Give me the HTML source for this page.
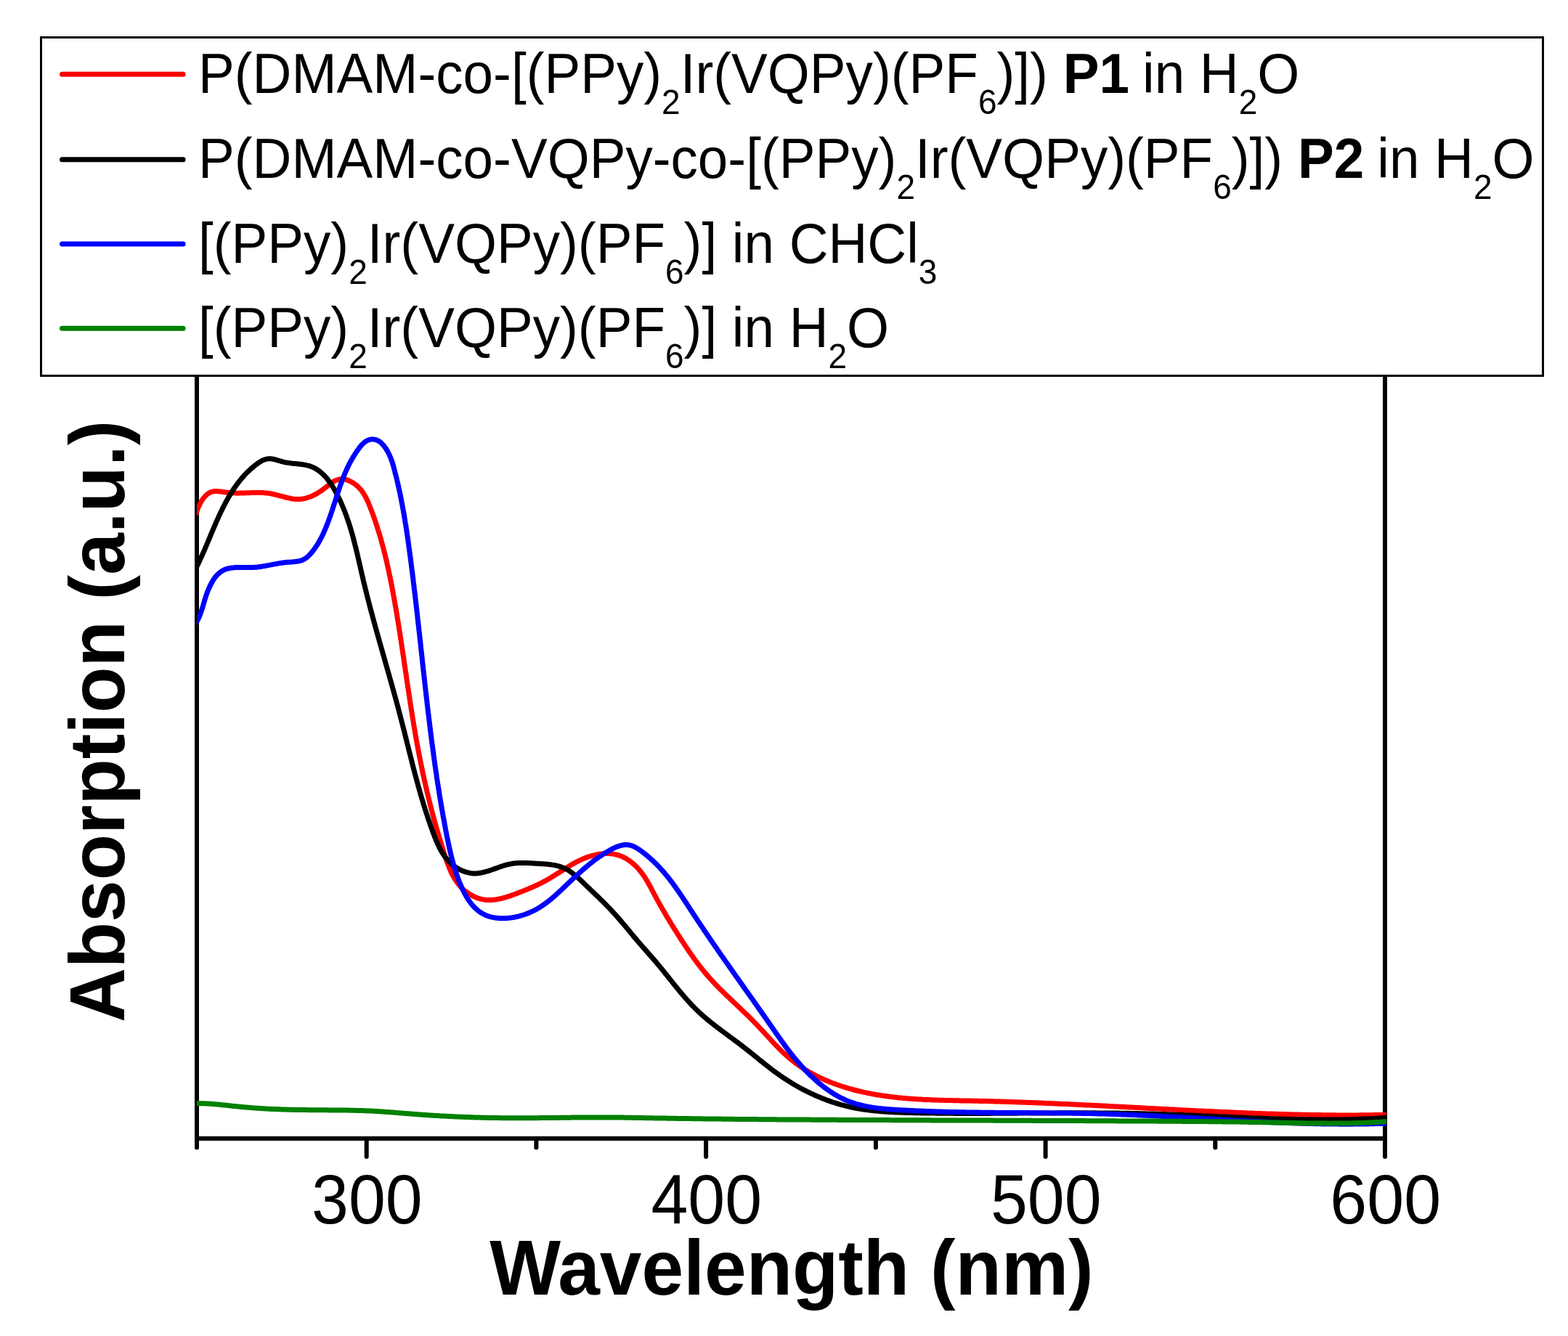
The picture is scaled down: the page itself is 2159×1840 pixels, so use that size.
<!DOCTYPE html>
<html><head><meta charset="utf-8"><title>Absorption spectra</title>
<style>html,body{margin:0;padding:0;background:#fff;overflow:hidden}svg{display:block}</style>
</head><body>
<svg width="2159" height="1840" viewBox="0 0 2159 1840">
<rect width="2159" height="1840" fill="#fff"/>
<g stroke="#000" stroke-width="6" fill="none">
<path d="M271,1568 H1907 M271,1568 V420 M1907,1568 V420"/>
</g>
<g stroke="#000" stroke-width="6" stroke-linecap="round">
<line x1="271.0" y1="1568" x2="271.0" y2="1580.5"/>
<line x1="504.7" y1="1568" x2="504.7" y2="1593.0"/>
<line x1="738.4" y1="1568" x2="738.4" y2="1580.5"/>
<line x1="972.1" y1="1568" x2="972.1" y2="1593.0"/>
<line x1="1205.9" y1="1568" x2="1205.9" y2="1580.5"/>
<line x1="1439.6" y1="1568" x2="1439.6" y2="1593.0"/>
<line x1="1673.3" y1="1568" x2="1673.3" y2="1580.5"/>
<line x1="1907.0" y1="1568" x2="1907.0" y2="1593.0"/>
</g>
<defs><clipPath id="pc"><rect x="271" y="300" width="1638" height="1300"/></clipPath></defs>
<g fill="none" stroke-width="7" stroke-linejoin="round" stroke-linecap="butt" clip-path="url(#pc)">
<path stroke="#ff0000" d="M269.6,709.6 L269.9,708.1 L270.4,706.4 L270.9,704.6 L271.6,702.8 L272.3,700.9 L273.0,698.9 L273.9,697.0 L274.8,695.0 L275.8,693.0 L276.9,691.1 L278.0,689.2 L279.2,687.4 L280.5,685.7 L281.8,684.1 L283.3,682.6 L284.7,681.2 L286.3,680.0 L287.9,679.0 L289.5,678.1 L291.2,677.5 L293.0,677.0 L294.8,676.7 L296.7,676.6 L298.5,676.6 L300.5,676.7 L302.4,676.9 L304.4,677.1 L306.4,677.4 L308.4,677.7 L310.4,678.0 L312.4,678.3 L314.4,678.5 L316.4,678.7 L318.4,678.9 L320.4,679.0 L322.4,679.1 L324.4,679.1 L326.3,679.2 L328.3,679.2 L330.3,679.1 L332.3,679.1 L334.2,679.0 L336.2,679.0 L338.2,678.9 L340.1,678.8 L342.1,678.8 L344.1,678.7 L346.0,678.6 L348.0,678.5 L349.9,678.5 L351.9,678.4 L353.9,678.4 L355.8,678.4 L357.8,678.5 L359.7,678.5 L361.7,678.6 L363.7,678.7 L365.7,678.9 L367.6,679.1 L369.6,679.3 L371.6,679.6 L373.6,680.0 L375.6,680.4 L377.5,680.8 L379.5,681.3 L381.5,681.8 L383.5,682.3 L385.5,682.9 L387.5,683.4 L389.5,683.9 L391.5,684.5 L393.5,685.0 L395.4,685.5 L397.4,685.9 L399.4,686.3 L401.3,686.7 L403.3,687.0 L405.2,687.2 L407.2,687.4 L409.1,687.5 L411.0,687.5 L412.9,687.4 L414.8,687.2 L416.6,687.0 L418.5,686.7 L420.3,686.3 L422.2,685.8 L424.0,685.2 L425.8,684.6 L427.6,684.0 L429.4,683.2 L431.2,682.4 L432.9,681.5 L434.7,680.6 L436.4,679.7 L438.1,678.6 L439.8,677.6 L441.5,676.4 L443.2,675.3 L444.9,674.1 L446.5,672.8 L448.2,671.5 L449.8,670.2 L451.4,668.9 L453.0,667.7 L454.6,666.4 L456.3,665.3 L457.9,664.1 L459.6,663.1 L461.3,662.2 L463.0,661.4 L464.7,660.8 L466.5,660.3 L468.3,659.9 L470.1,659.8 L472.0,659.8 L473.8,660.0 L475.7,660.4 L477.6,660.9 L479.5,661.6 L481.4,662.4 L483.3,663.3 L485.1,664.4 L486.9,665.5 L488.6,666.7 L490.3,668.0 L491.9,669.4 L493.5,670.8 L494.9,672.3 L496.3,673.8 L497.6,675.4 L498.8,677.0 L499.9,678.6 L501.0,680.3 L502.0,682.0 L503.0,683.7 L503.9,685.5 L504.8,687.3 L505.7,689.1 L506.5,690.9 L507.3,692.7 L508.0,694.6 L508.8,696.4 L509.5,698.3 L510.2,700.1 L511.0,702.0 L511.7,703.8 L512.4,705.7 L513.1,707.6 L513.8,709.4 L514.4,711.3 L515.1,713.2 L515.8,715.0 L516.4,716.9 L517.0,718.8 L517.7,720.7 L518.3,722.6 L518.9,724.5 L519.5,726.4 L520.1,728.3 L520.7,730.2 L521.3,732.1 L521.9,734.0 L522.5,735.9 L523.1,737.8 L523.6,739.7 L524.2,741.6 L524.7,743.5 L525.2,745.4 L525.8,747.4 L526.3,749.3 L526.8,751.2 L527.3,753.1 L527.8,755.1 L528.4,757.0 L528.8,758.9 L529.3,760.9 L529.8,762.8 L530.3,764.7 L530.8,766.7 L531.2,768.6 L531.7,770.6 L532.2,772.5 L532.6,774.5 L533.0,776.4 L533.5,778.4 L533.9,780.3 L534.4,782.3 L534.8,784.2 L535.2,786.2 L535.6,788.1 L536.0,790.1 L536.4,792.1 L536.9,794.0 L537.3,796.0 L537.6,797.9 L538.0,799.9 L538.4,801.9 L538.8,803.8 L539.2,805.8 L539.6,807.8 L540.0,809.7 L540.3,811.7 L540.7,813.7 L541.1,815.6 L541.4,817.6 L541.8,819.6 L542.1,821.5 L542.5,823.5 L542.8,825.5 L543.2,827.5 L543.5,829.4 L543.9,831.4 L544.2,833.4 L544.6,835.4 L544.9,837.3 L545.2,839.3 L545.6,841.3 L545.9,843.3 L546.2,845.2 L546.6,847.2 L546.9,849.2 L547.2,851.2 L547.5,853.1 L547.9,855.1 L548.2,857.1 L548.5,859.1 L548.8,861.0 L549.1,863.0 L549.4,865.0 L549.8,867.0 L550.1,869.0 L550.4,870.9 L550.7,872.9 L551.0,874.9 L551.3,876.9 L551.6,878.9 L551.9,880.8 L552.2,882.8 L552.5,884.8 L552.8,886.8 L553.1,888.8 L553.4,890.7 L553.7,892.7 L554.0,894.7 L554.3,896.7 L554.6,898.7 L554.9,900.6 L555.2,902.6 L555.5,904.6 L555.8,906.6 L556.1,908.5 L556.3,910.5 L556.6,912.5 L556.9,914.5 L557.2,916.5 L557.5,918.4 L557.8,920.4 L558.1,922.4 L558.4,924.4 L558.7,926.4 L559.0,928.3 L559.3,930.3 L559.6,932.3 L559.8,934.3 L560.1,936.3 L560.4,938.2 L560.7,940.2 L561.0,942.2 L561.3,944.2 L561.6,946.2 L561.9,948.1 L562.2,950.1 L562.5,952.1 L562.8,954.1 L563.1,956.0 L563.4,958.0 L563.7,960.0 L564.0,962.0 L564.3,963.9 L564.6,965.9 L564.9,967.9 L565.2,969.9 L565.5,971.8 L565.8,973.8 L566.1,975.8 L566.4,977.8 L566.7,979.7 L567.1,981.7 L567.4,983.7 L567.7,985.7 L568.0,987.6 L568.3,989.6 L568.6,991.6 L569.0,993.5 L569.3,995.5 L569.6,997.5 L569.9,999.4 L570.3,1001.4 L570.6,1003.4 L570.9,1005.3 L571.3,1007.3 L571.6,1009.3 L571.9,1011.2 L572.3,1013.2 L572.6,1015.2 L573.0,1017.1 L573.3,1019.1 L573.7,1021.1 L574.0,1023.0 L574.4,1025.0 L574.7,1027.0 L575.1,1028.9 L575.5,1030.9 L575.8,1032.8 L576.2,1034.8 L576.6,1036.8 L577.0,1038.7 L577.3,1040.7 L577.7,1042.6 L578.1,1044.6 L578.5,1046.5 L578.9,1048.5 L579.3,1050.4 L579.7,1052.4 L580.1,1054.3 L580.5,1056.3 L580.9,1058.3 L581.3,1060.2 L581.7,1062.2 L582.1,1064.1 L582.5,1066.0 L582.9,1068.0 L583.4,1069.9 L583.8,1071.9 L584.2,1073.8 L584.7,1075.8 L585.1,1077.7 L585.5,1079.7 L586.0,1081.6 L586.4,1083.6 L586.9,1085.5 L587.3,1087.4 L587.8,1089.4 L588.2,1091.3 L588.7,1093.3 L589.2,1095.2 L589.6,1097.1 L590.1,1099.1 L590.6,1101.0 L591.1,1103.0 L591.5,1104.9 L592.0,1106.8 L592.5,1108.8 L593.0,1110.7 L593.5,1112.6 L594.0,1114.6 L594.5,1116.5 L595.0,1118.4 L595.5,1120.4 L596.0,1122.3 L596.6,1124.2 L597.1,1126.2 L597.6,1128.1 L598.1,1130.0 L598.7,1132.0 L599.2,1133.9 L599.7,1135.8 L600.3,1137.7 L600.8,1139.7 L601.4,1141.6 L601.9,1143.5 L602.5,1145.4 L603.1,1147.4 L603.6,1149.3 L604.2,1151.2 L604.8,1153.1 L605.3,1155.1 L605.9,1157.0 L606.5,1158.9 L607.1,1160.8 L607.7,1162.8 L608.3,1164.7 L608.9,1166.6 L609.5,1168.5 L610.1,1170.4 L610.7,1172.4 L611.3,1174.3 L611.9,1176.2 L612.6,1178.1 L613.2,1180.0 L613.8,1181.9 L614.5,1183.9 L615.1,1185.8 L615.8,1187.7 L616.5,1189.6 L617.2,1191.4 L617.9,1193.3 L618.6,1195.2 L619.4,1197.0 L620.2,1198.8 L621.0,1200.7 L621.8,1202.4 L622.7,1204.2 L623.6,1206.0 L624.6,1207.7 L625.5,1209.4 L626.6,1211.1 L627.6,1212.7 L628.7,1214.4 L629.9,1215.9 L631.1,1217.5 L632.3,1219.0 L633.6,1220.5 L635.0,1222.0 L636.4,1223.4 L637.8,1224.8 L639.3,1226.1 L640.9,1227.4 L642.5,1228.6 L644.1,1229.8 L645.8,1230.9 L647.5,1232.0 L649.2,1233.0 L651.0,1233.9 L652.8,1234.8 L654.6,1235.6 L656.4,1236.4 L658.3,1237.1 L660.2,1237.6 L662.1,1238.2 L664.0,1238.6 L665.9,1238.9 L667.8,1239.2 L669.7,1239.4 L671.7,1239.5 L673.6,1239.5 L675.6,1239.5 L677.5,1239.4 L679.5,1239.2 L681.5,1239.0 L683.4,1238.8 L685.4,1238.4 L687.4,1238.0 L689.3,1237.6 L691.3,1237.2 L693.3,1236.6 L695.2,1236.1 L697.2,1235.5 L699.1,1234.9 L701.1,1234.3 L703.0,1233.6 L705.0,1232.9 L706.9,1232.2 L708.9,1231.5 L710.8,1230.8 L712.7,1230.1 L714.6,1229.3 L716.5,1228.6 L718.4,1227.9 L720.3,1227.1 L722.1,1226.4 L724.0,1225.6 L725.8,1224.9 L727.7,1224.1 L729.5,1223.3 L731.3,1222.6 L733.1,1221.8 L734.9,1221.0 L736.7,1220.2 L738.5,1219.3 L740.3,1218.5 L742.1,1217.6 L743.8,1216.8 L745.6,1215.9 L747.3,1215.0 L749.0,1214.1 L750.8,1213.2 L752.5,1212.2 L754.2,1211.3 L755.9,1210.3 L757.6,1209.3 L759.3,1208.3 L761.0,1207.2 L762.6,1206.2 L764.3,1205.1 L766.0,1204.1 L767.7,1203.0 L769.3,1201.9 L771.0,1200.9 L772.7,1199.8 L774.4,1198.7 L776.1,1197.6 L777.7,1196.6 L779.4,1195.5 L781.1,1194.5 L782.8,1193.4 L784.5,1192.4 L786.3,1191.3 L788.0,1190.3 L789.7,1189.4 L791.5,1188.4 L793.3,1187.4 L795.1,1186.5 L796.9,1185.6 L798.7,1184.7 L800.5,1183.9 L802.3,1183.1 L804.2,1182.3 L806.1,1181.5 L808.0,1180.8 L809.9,1180.1 L811.9,1179.5 L813.8,1178.9 L815.8,1178.3 L817.8,1177.8 L819.8,1177.3 L821.8,1176.9 L823.8,1176.5 L825.9,1176.2 L827.9,1176.0 L829.9,1175.8 L831.9,1175.6 L833.9,1175.5 L835.9,1175.5 L837.9,1175.6 L839.9,1175.7 L841.9,1175.8 L843.9,1176.1 L845.8,1176.4 L847.7,1176.8 L849.6,1177.3 L851.5,1177.8 L853.3,1178.4 L855.1,1179.1 L856.9,1179.9 L858.7,1180.7 L860.4,1181.6 L862.1,1182.6 L863.8,1183.6 L865.5,1184.7 L867.1,1185.8 L868.7,1187.0 L870.2,1188.2 L871.8,1189.5 L873.3,1190.8 L874.7,1192.2 L876.2,1193.6 L877.6,1195.0 L878.9,1196.5 L880.2,1198.0 L881.5,1199.6 L882.8,1201.2 L884.0,1202.8 L885.2,1204.4 L886.3,1206.0 L887.5,1207.7 L888.5,1209.4 L889.6,1211.1 L890.6,1212.8 L891.7,1214.5 L892.6,1216.3 L893.6,1218.0 L894.6,1219.8 L895.5,1221.6 L896.5,1223.3 L897.4,1225.1 L898.3,1226.9 L899.3,1228.6 L900.2,1230.4 L901.2,1232.2 L902.1,1233.9 L903.1,1235.7 L904.0,1237.5 L905.0,1239.2 L905.9,1241.0 L906.9,1242.7 L907.9,1244.4 L908.8,1246.2 L909.8,1247.9 L910.8,1249.6 L911.8,1251.4 L912.8,1253.1 L913.8,1254.8 L914.8,1256.5 L915.8,1258.2 L916.8,1260.0 L917.8,1261.7 L918.8,1263.4 L919.9,1265.1 L920.9,1266.8 L921.9,1268.5 L923.0,1270.2 L924.0,1271.9 L925.0,1273.6 L926.1,1275.3 L927.1,1277.0 L928.2,1278.7 L929.2,1280.4 L930.3,1282.0 L931.4,1283.7 L932.4,1285.4 L933.5,1287.1 L934.6,1288.8 L935.7,1290.5 L936.7,1292.2 L937.8,1293.8 L938.9,1295.5 L940.0,1297.2 L941.1,1298.9 L942.2,1300.6 L943.3,1302.2 L944.4,1303.9 L945.6,1305.6 L946.7,1307.2 L947.8,1308.9 L948.9,1310.6 L950.1,1312.2 L951.2,1313.9 L952.4,1315.5 L953.5,1317.1 L954.7,1318.8 L955.9,1320.4 L957.0,1322.0 L958.2,1323.6 L959.4,1325.2 L960.6,1326.8 L961.8,1328.4 L963.1,1330.0 L964.3,1331.6 L965.5,1333.2 L966.8,1334.7 L968.0,1336.3 L969.3,1337.8 L970.5,1339.4 L971.8,1340.9 L973.1,1342.4 L974.4,1343.9 L975.7,1345.4 L977.0,1346.9 L978.4,1348.4 L979.7,1349.8 L981.0,1351.3 L982.4,1352.7 L983.7,1354.2 L985.1,1355.6 L986.5,1357.0 L987.9,1358.5 L989.3,1359.9 L990.6,1361.3 L992.0,1362.7 L993.5,1364.1 L994.9,1365.5 L996.3,1366.9 L997.7,1368.3 L999.1,1369.6 L1000.5,1371.0 L1002.0,1372.4 L1003.4,1373.8 L1004.8,1375.1 L1006.3,1376.5 L1007.7,1377.9 L1009.2,1379.3 L1010.6,1380.6 L1012.1,1382.0 L1013.5,1383.4 L1015.0,1384.7 L1016.4,1386.1 L1017.9,1387.5 L1019.3,1388.8 L1020.7,1390.2 L1022.2,1391.6 L1023.6,1393.0 L1025.1,1394.4 L1026.5,1395.7 L1028.0,1397.1 L1029.4,1398.5 L1030.8,1399.9 L1032.3,1401.3 L1033.7,1402.8 L1035.1,1404.2 L1036.5,1405.6 L1037.9,1407.0 L1039.3,1408.5 L1040.7,1409.9 L1042.1,1411.4 L1043.5,1412.8 L1044.9,1414.3 L1046.3,1415.8 L1047.7,1417.3 L1049.0,1418.7 L1050.4,1420.2 L1051.8,1421.7 L1053.2,1423.2 L1054.5,1424.7 L1055.9,1426.2 L1057.3,1427.7 L1058.6,1429.2 L1060.0,1430.7 L1061.4,1432.2 L1062.7,1433.7 L1064.1,1435.1 L1065.5,1436.6 L1066.9,1438.1 L1068.3,1439.5 L1069.7,1441.0 L1071.1,1442.4 L1072.5,1443.9 L1073.9,1445.3 L1075.4,1446.7 L1076.8,1448.1 L1078.2,1449.5 L1079.7,1450.9 L1081.2,1452.2 L1082.6,1453.6 L1084.1,1454.9 L1085.6,1456.2 L1087.1,1457.5 L1088.7,1458.8 L1090.2,1460.1 L1091.8,1461.3 L1093.3,1462.5 L1094.9,1463.7 L1096.5,1464.9 L1098.1,1466.1 L1099.7,1467.2 L1101.4,1468.3 L1103.0,1469.5 L1104.7,1470.5 L1106.3,1471.6 L1108.0,1472.7 L1109.7,1473.7 L1111.4,1474.8 L1113.1,1475.8 L1114.8,1476.8 L1116.6,1477.7 L1118.3,1478.7 L1120.0,1479.6 L1121.8,1480.6 L1123.6,1481.5 L1125.3,1482.4 L1127.1,1483.2 L1128.9,1484.1 L1130.7,1485.0 L1132.5,1485.8 L1134.3,1486.6 L1136.2,1487.4 L1138.0,1488.2 L1139.8,1489.0 L1141.7,1489.7 L1143.5,1490.5 L1145.4,1491.2 L1147.2,1491.9 L1149.1,1492.6 L1151.0,1493.3 L1152.9,1494.0 L1154.8,1494.6 L1156.7,1495.3 L1158.5,1495.9 L1160.5,1496.5 L1162.4,1497.1 L1164.3,1497.7 L1166.2,1498.3 L1168.1,1498.9 L1170.0,1499.4 L1171.9,1499.9 L1173.9,1500.5 L1175.8,1501.0 L1177.7,1501.5 L1179.7,1502.0 L1181.6,1502.5 L1183.6,1502.9 L1185.5,1503.4 L1187.5,1503.8 L1189.4,1504.3 L1191.3,1504.7 L1193.3,1505.1 L1195.3,1505.5 L1197.2,1505.9 L1199.2,1506.3 L1201.1,1506.6 L1203.1,1507.0 L1205.0,1507.3 L1207.0,1507.7 L1209.0,1508.0 L1210.9,1508.3 L1212.9,1508.6 L1214.9,1508.9 L1216.8,1509.2 L1218.8,1509.5 L1220.8,1509.8 L1222.8,1510.1 L1224.7,1510.3 L1226.7,1510.6 L1228.7,1510.8 L1230.7,1511.0 L1232.7,1511.3 L1234.6,1511.5 L1236.6,1511.7 L1238.6,1511.9 L1240.6,1512.1 L1242.6,1512.3 L1244.6,1512.4 L1246.6,1512.6 L1248.6,1512.8 L1250.6,1512.9 L1252.5,1513.1 L1254.5,1513.3 L1256.5,1513.4 L1258.5,1513.5 L1260.5,1513.7 L1262.5,1513.8 L1264.5,1513.9 L1266.5,1514.0 L1268.5,1514.1 L1270.5,1514.2 L1272.5,1514.4 L1274.5,1514.4 L1276.5,1514.5 L1278.5,1514.6 L1280.5,1514.7 L1282.5,1514.8 L1284.5,1514.9 L1286.5,1514.9 L1288.6,1515.0 L1290.6,1515.1 L1292.6,1515.2 L1294.6,1515.2 L1296.6,1515.3 L1298.6,1515.3 L1300.6,1515.4 L1302.6,1515.4 L1304.6,1515.5 L1306.6,1515.5 L1308.6,1515.6 L1310.6,1515.6 L1312.6,1515.7 L1314.7,1515.7 L1316.7,1515.7 L1318.7,1515.8 L1320.7,1515.8 L1322.7,1515.9 L1324.7,1515.9 L1326.7,1515.9 L1328.7,1516.0 L1330.7,1516.0 L1332.7,1516.1 L1334.7,1516.1 L1336.7,1516.1 L1338.8,1516.2 L1340.8,1516.2 L1342.8,1516.3 L1344.8,1516.3 L1346.8,1516.3 L1348.8,1516.4 L1350.8,1516.4 L1352.8,1516.5 L1354.8,1516.5 L1356.8,1516.6 L1358.8,1516.6 L1360.8,1516.7 L1362.8,1516.7 L1364.8,1516.8 L1366.8,1516.8 L1368.8,1516.9 L1370.8,1516.9 L1372.8,1517.0 L1374.8,1517.0 L1376.8,1517.1 L1378.8,1517.2 L1380.9,1517.2 L1382.9,1517.3 L1384.9,1517.3 L1386.9,1517.4 L1388.9,1517.5 L1390.9,1517.5 L1392.9,1517.6 L1394.9,1517.7 L1396.9,1517.7 L1398.9,1517.8 L1400.9,1517.9 L1402.9,1517.9 L1404.9,1518.0 L1406.8,1518.1 L1408.8,1518.2 L1410.8,1518.2 L1412.8,1518.3 L1414.8,1518.4 L1416.8,1518.5 L1418.8,1518.5 L1420.8,1518.6 L1422.8,1518.7 L1424.8,1518.8 L1426.8,1518.8 L1428.8,1518.9 L1430.8,1519.0 L1432.8,1519.1 L1434.8,1519.2 L1436.8,1519.2 L1438.8,1519.3 L1440.8,1519.4 L1442.8,1519.5 L1444.8,1519.6 L1446.8,1519.7 L1448.8,1519.7 L1450.8,1519.8 L1452.8,1519.9 L1454.8,1520.0 L1456.8,1520.1 L1458.7,1520.2 L1460.7,1520.3 L1462.7,1520.4 L1464.7,1520.4 L1466.7,1520.5 L1468.7,1520.6 L1470.7,1520.7 L1472.7,1520.8 L1474.7,1520.9 L1476.7,1521.0 L1478.7,1521.1 L1480.7,1521.2 L1482.7,1521.3 L1484.7,1521.4 L1486.7,1521.5 L1488.7,1521.6 L1490.6,1521.7 L1492.6,1521.8 L1494.6,1521.9 L1496.6,1522.0 L1498.6,1522.0 L1500.6,1522.1 L1502.6,1522.2 L1504.6,1522.3 L1506.6,1522.4 L1508.6,1522.5 L1510.6,1522.6 L1512.6,1522.7 L1514.6,1522.8 L1516.6,1522.9 L1518.5,1523.0 L1520.5,1523.1 L1522.5,1523.2 L1524.5,1523.3 L1526.5,1523.4 L1528.5,1523.6 L1530.5,1523.7 L1532.5,1523.8 L1534.5,1523.9 L1536.5,1524.0 L1538.5,1524.1 L1540.5,1524.2 L1542.5,1524.3 L1544.5,1524.4 L1546.4,1524.5 L1548.4,1524.6 L1550.4,1524.7 L1552.4,1524.8 L1554.4,1524.9 L1556.4,1525.0 L1558.4,1525.1 L1560.4,1525.2 L1562.4,1525.3 L1564.4,1525.4 L1566.4,1525.5 L1568.4,1525.6 L1570.4,1525.7 L1572.4,1525.8 L1574.4,1525.9 L1576.3,1526.1 L1578.3,1526.2 L1580.3,1526.3 L1582.3,1526.4 L1584.3,1526.5 L1586.3,1526.6 L1588.3,1526.7 L1590.3,1526.8 L1592.3,1526.9 L1594.3,1527.0 L1596.3,1527.1 L1598.3,1527.2 L1600.3,1527.3 L1602.3,1527.4 L1604.3,1527.5 L1606.3,1527.6 L1608.3,1527.7 L1610.3,1527.8 L1612.3,1527.9 L1614.3,1528.0 L1616.3,1528.1 L1618.3,1528.2 L1620.3,1528.3 L1622.2,1528.5 L1624.2,1528.6 L1626.2,1528.7 L1628.2,1528.8 L1630.2,1528.9 L1632.2,1529.0 L1634.2,1529.1 L1636.2,1529.2 L1638.2,1529.3 L1640.2,1529.4 L1642.2,1529.5 L1644.2,1529.6 L1646.2,1529.7 L1648.2,1529.8 L1650.2,1529.9 L1652.2,1530.0 L1654.2,1530.1 L1656.2,1530.2 L1658.2,1530.3 L1660.2,1530.3 L1662.2,1530.4 L1664.2,1530.5 L1666.2,1530.6 L1668.2,1530.7 L1670.2,1530.8 L1672.2,1530.9 L1674.2,1531.0 L1676.2,1531.1 L1678.2,1531.2 L1680.2,1531.3 L1682.2,1531.4 L1684.2,1531.5 L1686.2,1531.6 L1688.2,1531.6 L1690.2,1531.7 L1692.2,1531.8 L1694.2,1531.9 L1696.2,1532.0 L1698.2,1532.1 L1700.2,1532.2 L1702.2,1532.3 L1704.2,1532.3 L1706.2,1532.4 L1708.2,1532.5 L1710.2,1532.6 L1712.2,1532.7 L1714.2,1532.7 L1716.2,1532.8 L1718.2,1532.9 L1720.2,1533.0 L1722.2,1533.1 L1724.2,1533.1 L1726.2,1533.2 L1728.2,1533.3 L1730.2,1533.4 L1732.2,1533.4 L1734.2,1533.5 L1736.2,1533.6 L1738.2,1533.7 L1740.2,1533.7 L1742.2,1533.8 L1744.2,1533.9 L1746.2,1533.9 L1748.2,1534.0 L1750.2,1534.1 L1752.2,1534.1 L1754.2,1534.2 L1756.2,1534.2 L1758.2,1534.3 L1760.2,1534.4 L1762.2,1534.4 L1764.2,1534.5 L1766.2,1534.5 L1768.2,1534.6 L1770.2,1534.7 L1772.2,1534.7 L1774.2,1534.8 L1776.2,1534.8 L1778.2,1534.9 L1780.2,1534.9 L1782.2,1535.0 L1784.2,1535.0 L1786.2,1535.1 L1788.2,1535.1 L1790.2,1535.2 L1792.2,1535.2 L1794.2,1535.2 L1796.2,1535.3 L1798.2,1535.3 L1800.2,1535.4 L1802.2,1535.4 L1804.2,1535.4 L1806.2,1535.5 L1808.2,1535.5 L1810.2,1535.5 L1812.2,1535.6 L1814.2,1535.6 L1816.2,1535.6 L1818.2,1535.6 L1820.2,1535.7 L1822.2,1535.7 L1824.2,1535.7 L1826.2,1535.7 L1828.2,1535.8 L1830.2,1535.8 L1832.2,1535.8 L1834.2,1535.8 L1836.1,1535.8 L1838.1,1535.8 L1840.1,1535.9 L1842.1,1535.9 L1844.1,1535.9 L1846.1,1535.9 L1848.1,1535.9 L1850.1,1535.9 L1852.1,1535.9 L1854.1,1535.9 L1856.1,1535.9 L1858.1,1535.9 L1860.1,1535.9 L1862.1,1535.9 L1864.1,1535.9 L1866.1,1535.9 L1868.1,1535.9 L1870.1,1535.9 L1872.1,1535.8 L1874.1,1535.8 L1876.1,1535.8 L1878.1,1535.8 L1880.1,1535.8 L1882.1,1535.8 L1884.1,1535.7 L1886.1,1535.7 L1888.0,1535.7 L1890.0,1535.7 L1892.0,1535.6 L1894.0,1535.6 L1896.0,1535.6 L1898.0,1535.5 L1900.0,1535.5 L1902.0,1535.5 L1904.0,1535.4 L1906.0,1535.4 L1908.0,1535.3 L1910.0,1535.3 L1912.0,1535.2 L1914.0,1535.2"/>
<path stroke="#000000" d="M268.9,784.3 L269.8,782.6 L270.7,780.9 L271.5,779.2 L272.4,777.4 L273.2,775.7 L274.1,773.9 L274.9,772.2 L275.7,770.4 L276.5,768.6 L277.4,766.8 L278.2,765.0 L279.0,763.2 L279.8,761.4 L280.6,759.6 L281.4,757.8 L282.2,755.9 L282.9,754.1 L283.7,752.3 L284.5,750.4 L285.3,748.6 L286.1,746.7 L286.8,744.8 L287.6,743.0 L288.4,741.1 L289.2,739.3 L290.0,737.4 L290.7,735.5 L291.5,733.7 L292.3,731.8 L293.1,729.9 L293.9,728.1 L294.7,726.2 L295.5,724.3 L296.3,722.5 L297.1,720.6 L297.9,718.7 L298.7,716.9 L299.6,715.0 L300.4,713.2 L301.2,711.3 L302.1,709.5 L302.9,707.7 L303.8,705.8 L304.7,704.0 L305.6,702.2 L306.4,700.4 L307.3,698.6 L308.3,696.8 L309.2,695.0 L310.1,693.2 L311.0,691.4 L312.0,689.7 L313.0,687.9 L314.0,686.2 L314.9,684.5 L316.0,682.7 L317.0,681.0 L318.0,679.3 L319.1,677.7 L320.1,676.0 L321.2,674.3 L322.3,672.7 L323.4,671.1 L324.6,669.4 L325.7,667.8 L326.9,666.3 L328.1,664.7 L329.3,663.1 L330.5,661.6 L331.7,660.1 L333.0,658.6 L334.3,657.1 L335.6,655.6 L336.9,654.2 L338.3,652.7 L339.6,651.3 L341.0,649.9 L342.4,648.6 L343.9,647.2 L345.3,645.9 L346.8,644.6 L348.3,643.3 L349.9,642.0 L351.4,640.8 L353.0,639.6 L354.6,638.4 L356.3,637.2 L357.9,636.2 L359.6,635.1 L361.4,634.2 L363.1,633.4 L364.9,632.8 L366.6,632.3 L368.5,631.9 L370.3,631.8 L372.2,631.8 L374.0,632.0 L375.9,632.3 L377.9,632.7 L379.8,633.2 L381.8,633.8 L383.8,634.4 L385.8,635.0 L387.8,635.5 L389.8,636.1 L391.9,636.6 L394.0,637.0 L396.1,637.3 L398.2,637.6 L400.3,637.9 L402.4,638.2 L404.5,638.4 L406.6,638.6 L408.7,638.8 L410.8,639.0 L412.8,639.2 L414.9,639.5 L416.9,639.8 L418.9,640.1 L420.9,640.4 L422.8,640.9 L424.7,641.3 L426.5,641.9 L428.3,642.5 L430.1,643.2 L431.8,644.0 L433.5,644.9 L435.2,645.8 L436.8,646.8 L438.3,647.9 L439.9,649.0 L441.3,650.2 L442.8,651.4 L444.2,652.7 L445.6,654.0 L447.0,655.4 L448.3,656.8 L449.6,658.3 L450.8,659.8 L452.0,661.4 L453.2,663.0 L454.4,664.6 L455.5,666.3 L456.7,667.9 L457.7,669.7 L458.8,671.4 L459.8,673.1 L460.9,674.9 L461.9,676.7 L462.8,678.5 L463.8,680.3 L464.7,682.1 L465.6,683.9 L466.5,685.7 L467.4,687.6 L468.3,689.4 L469.1,691.2 L469.9,693.1 L470.7,694.9 L471.5,696.8 L472.3,698.6 L473.1,700.5 L473.8,702.4 L474.6,704.2 L475.3,706.1 L476.0,708.0 L476.7,709.8 L477.4,711.7 L478.0,713.6 L478.7,715.5 L479.3,717.4 L480.0,719.3 L480.6,721.2 L481.2,723.1 L481.8,725.0 L482.4,726.9 L482.9,728.8 L483.5,730.7 L484.1,732.6 L484.6,734.5 L485.2,736.4 L485.7,738.3 L486.2,740.2 L486.7,742.2 L487.2,744.1 L487.7,746.0 L488.2,747.9 L488.7,749.9 L489.2,751.8 L489.7,753.7 L490.2,755.7 L490.6,757.6 L491.1,759.5 L491.6,761.5 L492.0,763.4 L492.5,765.3 L492.9,767.3 L493.4,769.2 L493.8,771.2 L494.3,773.1 L494.7,775.1 L495.2,777.0 L495.6,778.9 L496.0,780.9 L496.5,782.8 L496.9,784.8 L497.4,786.7 L497.8,788.7 L498.3,790.6 L498.7,792.5 L499.2,794.5 L499.6,796.4 L500.1,798.4 L500.5,800.3 L501.0,802.3 L501.5,804.2 L501.9,806.1 L502.4,808.1 L502.9,810.0 L503.4,812.0 L503.8,813.9 L504.3,815.8 L504.8,817.8 L505.3,819.7 L505.8,821.7 L506.3,823.6 L506.8,825.5 L507.3,827.5 L507.8,829.4 L508.3,831.3 L508.8,833.3 L509.3,835.2 L509.8,837.1 L510.3,839.1 L510.8,841.0 L511.3,843.0 L511.9,844.9 L512.4,846.8 L512.9,848.7 L513.4,850.7 L514.0,852.6 L514.5,854.5 L515.0,856.5 L515.5,858.4 L516.1,860.3 L516.6,862.3 L517.1,864.2 L517.7,866.1 L518.2,868.1 L518.7,870.0 L519.3,871.9 L519.8,873.9 L520.4,875.8 L520.9,877.7 L521.4,879.6 L522.0,881.6 L522.5,883.5 L523.1,885.4 L523.6,887.4 L524.2,889.3 L524.7,891.2 L525.3,893.1 L525.8,895.1 L526.4,897.0 L526.9,898.9 L527.5,900.8 L528.0,902.8 L528.6,904.7 L529.1,906.6 L529.7,908.6 L530.2,910.5 L530.7,912.4 L531.3,914.3 L531.8,916.3 L532.4,918.2 L532.9,920.1 L533.5,922.0 L534.0,924.0 L534.6,925.9 L535.1,927.8 L535.7,929.7 L536.2,931.7 L536.8,933.6 L537.3,935.5 L537.9,937.5 L538.4,939.4 L538.9,941.3 L539.5,943.2 L540.0,945.2 L540.6,947.1 L541.1,949.0 L541.6,950.9 L542.2,952.9 L542.7,954.8 L543.2,956.7 L543.8,958.7 L544.3,960.6 L544.8,962.5 L545.4,964.4 L545.9,966.4 L546.4,968.3 L546.9,970.2 L547.4,972.1 L548.0,974.1 L548.5,976.0 L549.0,977.9 L549.5,979.9 L550.0,981.8 L550.5,983.7 L551.0,985.6 L551.5,987.6 L552.0,989.5 L552.5,991.4 L553.0,993.4 L553.5,995.3 L554.0,997.2 L554.5,999.2 L555.0,1001.1 L555.5,1003.0 L556.0,1005.0 L556.5,1006.9 L557.0,1008.8 L557.4,1010.7 L557.9,1012.7 L558.4,1014.6 L558.9,1016.5 L559.4,1018.5 L559.9,1020.4 L560.3,1022.3 L560.8,1024.3 L561.3,1026.2 L561.8,1028.1 L562.3,1030.1 L562.8,1032.0 L563.2,1033.9 L563.7,1035.9 L564.2,1037.8 L564.7,1039.7 L565.2,1041.6 L565.7,1043.6 L566.2,1045.5 L566.7,1047.4 L567.1,1049.4 L567.6,1051.3 L568.1,1053.2 L568.6,1055.1 L569.1,1057.1 L569.6,1059.0 L570.1,1060.9 L570.6,1062.9 L571.1,1064.8 L571.6,1066.7 L572.2,1068.6 L572.7,1070.6 L573.2,1072.5 L573.7,1074.4 L574.2,1076.3 L574.8,1078.3 L575.3,1080.2 L575.8,1082.1 L576.3,1084.0 L576.9,1085.9 L577.4,1087.9 L578.0,1089.8 L578.5,1091.7 L579.1,1093.6 L579.6,1095.5 L580.2,1097.5 L580.7,1099.4 L581.3,1101.3 L581.9,1103.2 L582.5,1105.1 L583.0,1107.0 L583.6,1109.0 L584.2,1110.9 L584.8,1112.8 L585.4,1114.7 L586.0,1116.6 L586.6,1118.5 L587.2,1120.4 L587.9,1122.3 L588.5,1124.3 L589.1,1126.2 L589.8,1128.1 L590.4,1130.0 L591.1,1131.9 L591.7,1133.8 L592.4,1135.7 L593.0,1137.6 L593.7,1139.5 L594.4,1141.4 L595.1,1143.3 L595.8,1145.2 L596.5,1147.1 L597.2,1149.0 L597.9,1150.9 L598.6,1152.8 L599.4,1154.6 L600.1,1156.5 L600.9,1158.4 L601.7,1160.2 L602.5,1162.1 L603.4,1163.9 L604.2,1165.7 L605.1,1167.5 L606.0,1169.2 L607.0,1171.0 L608.0,1172.7 L609.0,1174.4 L610.0,1176.1 L611.1,1177.7 L612.2,1179.3 L613.4,1180.9 L614.6,1182.4 L615.9,1183.9 L617.2,1185.4 L618.5,1186.8 L619.9,1188.2 L621.4,1189.5 L622.9,1190.8 L624.4,1192.1 L626.0,1193.3 L627.7,1194.4 L629.3,1195.5 L631.1,1196.5 L632.8,1197.5 L634.6,1198.4 L636.4,1199.2 L638.3,1199.9 L640.1,1200.6 L642.0,1201.2 L643.9,1201.7 L645.8,1202.1 L647.8,1202.5 L649.7,1202.7 L651.7,1202.9 L653.6,1202.9 L655.5,1202.9 L657.5,1202.7 L659.4,1202.5 L661.4,1202.2 L663.3,1201.9 L665.3,1201.4 L667.2,1201.0 L669.2,1200.4 L671.1,1199.9 L673.1,1199.3 L675.1,1198.6 L677.0,1198.0 L679.0,1197.3 L680.9,1196.6 L682.9,1195.9 L684.8,1195.2 L686.8,1194.5 L688.7,1193.8 L690.7,1193.1 L692.6,1192.5 L694.5,1191.9 L696.5,1191.3 L698.4,1190.8 L700.4,1190.4 L702.3,1190.0 L704.2,1189.6 L706.2,1189.3 L708.1,1189.1 L710.1,1188.8 L712.0,1188.7 L713.9,1188.6 L715.9,1188.5 L717.8,1188.4 L719.8,1188.4 L721.7,1188.4 L723.7,1188.5 L725.6,1188.5 L727.6,1188.6 L729.6,1188.7 L731.6,1188.8 L733.6,1188.9 L735.6,1189.0 L737.6,1189.2 L739.6,1189.3 L741.6,1189.4 L743.7,1189.5 L745.7,1189.7 L747.8,1189.8 L749.9,1190.0 L751.9,1190.1 L754.0,1190.3 L756.0,1190.5 L758.0,1190.8 L760.1,1191.1 L762.1,1191.4 L764.1,1191.7 L766.0,1192.1 L768.0,1192.6 L769.9,1193.1 L771.8,1193.7 L773.6,1194.4 L775.4,1195.1 L777.2,1195.9 L779.0,1196.7 L780.7,1197.6 L782.4,1198.6 L784.0,1199.6 L785.7,1200.7 L787.3,1201.9 L788.8,1203.1 L790.4,1204.3 L791.9,1205.5 L793.5,1206.8 L795.0,1208.2 L796.5,1209.5 L798.0,1210.9 L799.4,1212.3 L800.9,1213.6 L802.4,1215.0 L803.8,1216.4 L805.3,1217.9 L806.7,1219.3 L808.2,1220.7 L809.6,1222.0 L811.1,1223.4 L812.5,1224.8 L814.0,1226.2 L815.4,1227.6 L816.9,1229.0 L818.3,1230.4 L819.8,1231.8 L821.2,1233.2 L822.7,1234.5 L824.1,1235.9 L825.5,1237.3 L826.9,1238.7 L828.4,1240.1 L829.8,1241.5 L831.2,1242.9 L832.6,1244.3 L834.0,1245.7 L835.4,1247.2 L836.8,1248.6 L838.2,1250.0 L839.6,1251.4 L840.9,1252.9 L842.3,1254.3 L843.7,1255.8 L845.0,1257.2 L846.3,1258.7 L847.7,1260.2 L849.0,1261.6 L850.3,1263.1 L851.6,1264.6 L852.9,1266.1 L854.2,1267.6 L855.5,1269.1 L856.8,1270.7 L858.1,1272.2 L859.4,1273.7 L860.7,1275.2 L862.0,1276.8 L863.2,1278.3 L864.5,1279.8 L865.8,1281.4 L867.1,1282.9 L868.3,1284.5 L869.6,1286.0 L870.9,1287.5 L872.1,1289.1 L873.4,1290.6 L874.7,1292.1 L876.0,1293.6 L877.3,1295.1 L878.6,1296.7 L879.9,1298.2 L881.1,1299.7 L882.5,1301.2 L883.8,1302.7 L885.1,1304.2 L886.4,1305.7 L887.7,1307.1 L889.0,1308.6 L890.3,1310.1 L891.6,1311.6 L892.9,1313.1 L894.2,1314.6 L895.6,1316.1 L896.9,1317.6 L898.2,1319.1 L899.5,1320.6 L900.8,1322.1 L902.1,1323.6 L903.4,1325.1 L904.6,1326.6 L905.9,1328.2 L907.2,1329.7 L908.5,1331.2 L909.7,1332.8 L911.0,1334.3 L912.3,1335.9 L913.5,1337.4 L914.8,1339.0 L916.0,1340.6 L917.3,1342.1 L918.5,1343.7 L919.8,1345.3 L921.0,1346.8 L922.3,1348.4 L923.5,1350.0 L924.8,1351.5 L926.1,1353.1 L927.3,1354.7 L928.6,1356.2 L929.8,1357.8 L931.1,1359.4 L932.4,1360.9 L933.6,1362.5 L934.9,1364.0 L936.2,1365.6 L937.5,1367.1 L938.8,1368.6 L940.0,1370.1 L941.4,1371.7 L942.7,1373.2 L944.0,1374.7 L945.3,1376.2 L946.6,1377.7 L948.0,1379.2 L949.3,1380.6 L950.7,1382.1 L952.0,1383.6 L953.4,1385.0 L954.8,1386.4 L956.2,1387.9 L957.6,1389.3 L959.0,1390.7 L960.4,1392.0 L961.9,1393.4 L963.3,1394.8 L964.8,1396.1 L966.3,1397.5 L967.8,1398.8 L969.3,1400.1 L970.8,1401.4 L972.3,1402.7 L973.8,1404.0 L975.3,1405.2 L976.9,1406.5 L978.4,1407.8 L980.0,1409.0 L981.6,1410.2 L983.1,1411.5 L984.7,1412.7 L986.3,1413.9 L987.9,1415.1 L989.5,1416.4 L991.1,1417.6 L992.7,1418.8 L994.3,1420.0 L995.9,1421.2 L997.5,1422.3 L999.1,1423.5 L1000.7,1424.7 L1002.3,1425.9 L1003.9,1427.1 L1005.5,1428.3 L1007.2,1429.5 L1008.8,1430.7 L1010.4,1431.9 L1012.0,1433.1 L1013.6,1434.2 L1015.2,1435.4 L1016.8,1436.6 L1018.4,1437.8 L1020.0,1439.1 L1021.6,1440.3 L1023.1,1441.5 L1024.7,1442.7 L1026.3,1443.9 L1027.9,1445.2 L1029.4,1446.4 L1031.0,1447.6 L1032.5,1448.9 L1034.1,1450.1 L1035.7,1451.4 L1037.2,1452.6 L1038.7,1453.9 L1040.3,1455.1 L1041.8,1456.4 L1043.4,1457.6 L1044.9,1458.9 L1046.5,1460.2 L1048.0,1461.4 L1049.6,1462.6 L1051.1,1463.9 L1052.7,1465.1 L1054.3,1466.4 L1055.8,1467.6 L1057.4,1468.8 L1059.0,1470.0 L1060.5,1471.3 L1062.1,1472.5 L1063.7,1473.7 L1065.3,1474.9 L1066.9,1476.1 L1068.5,1477.2 L1070.1,1478.4 L1071.8,1479.6 L1073.4,1480.7 L1075.0,1481.9 L1076.7,1483.0 L1078.3,1484.1 L1080.0,1485.2 L1081.7,1486.3 L1083.4,1487.4 L1085.1,1488.5 L1086.8,1489.6 L1088.5,1490.6 L1090.2,1491.7 L1091.9,1492.7 L1093.6,1493.7 L1095.4,1494.7 L1097.1,1495.7 L1098.9,1496.7 L1100.6,1497.7 L1102.4,1498.7 L1104.1,1499.6 L1105.9,1500.6 L1107.7,1501.5 L1109.5,1502.4 L1111.3,1503.3 L1113.1,1504.2 L1114.9,1505.1 L1116.7,1505.9 L1118.5,1506.8 L1120.4,1507.6 L1122.2,1508.5 L1124.0,1509.3 L1125.9,1510.1 L1127.7,1510.8 L1129.6,1511.6 L1131.4,1512.4 L1133.3,1513.1 L1135.2,1513.8 L1137.0,1514.6 L1138.9,1515.3 L1140.8,1515.9 L1142.7,1516.6 L1144.6,1517.3 L1146.5,1517.9 L1148.4,1518.5 L1150.3,1519.1 L1152.2,1519.7 L1154.1,1520.3 L1156.0,1520.9 L1157.9,1521.4 L1159.8,1521.9 L1161.8,1522.4 L1163.7,1522.9 L1165.6,1523.4 L1167.5,1523.9 L1169.5,1524.3 L1171.4,1524.8 L1173.4,1525.2 L1175.3,1525.6 L1177.3,1526.0 L1179.2,1526.3 L1181.2,1526.7 L1183.1,1527.0 L1185.1,1527.4 L1187.0,1527.7 L1189.0,1528.0 L1191.0,1528.3 L1192.9,1528.5 L1194.9,1528.8 L1196.9,1529.1 L1198.9,1529.3 L1200.8,1529.5 L1202.8,1529.7 L1204.8,1529.9 L1206.8,1530.1 L1208.8,1530.3 L1210.8,1530.5 L1212.7,1530.7 L1214.7,1530.8 L1216.7,1531.0 L1218.7,1531.1 L1220.7,1531.3 L1222.7,1531.4 L1224.7,1531.5 L1226.7,1531.6 L1228.7,1531.7 L1230.7,1531.8 L1232.7,1531.9 L1234.7,1532.0 L1236.7,1532.1 L1238.7,1532.1 L1240.7,1532.2 L1242.7,1532.3 L1244.7,1532.3 L1246.7,1532.4 L1248.7,1532.5 L1250.7,1532.5 L1252.7,1532.6 L1254.7,1532.6 L1256.7,1532.6 L1258.7,1532.7 L1260.7,1532.7 L1262.7,1532.8 L1264.7,1532.8 L1266.7,1532.8 L1268.7,1532.9 L1270.7,1532.9 L1272.8,1532.9 L1274.8,1533.0 L1276.8,1533.0 L1278.8,1533.0 L1280.8,1533.1 L1282.8,1533.1 L1284.8,1533.1 L1286.8,1533.1 L1288.8,1533.2 L1290.8,1533.2 L1292.8,1533.2 L1294.8,1533.2 L1296.8,1533.2 L1298.8,1533.3 L1300.8,1533.3 L1302.8,1533.3 L1304.8,1533.3 L1306.8,1533.3 L1308.8,1533.3 L1310.8,1533.3 L1312.8,1533.3 L1314.8,1533.4 L1316.8,1533.4 L1318.8,1533.4 L1320.8,1533.4 L1322.8,1533.4 L1324.8,1533.4 L1326.8,1533.4 L1328.8,1533.4 L1330.8,1533.4 L1332.8,1533.4 L1334.8,1533.4 L1336.8,1533.4 L1338.8,1533.4 L1340.8,1533.4 L1342.8,1533.4 L1344.8,1533.4 L1346.8,1533.4 L1348.8,1533.4 L1350.8,1533.4 L1352.8,1533.4 L1354.8,1533.4 L1356.8,1533.4 L1358.8,1533.4 L1360.8,1533.4 L1362.8,1533.4 L1364.8,1533.3 L1366.8,1533.3 L1368.8,1533.3 L1370.8,1533.3 L1372.8,1533.3 L1374.8,1533.3 L1376.8,1533.3 L1378.8,1533.3 L1380.8,1533.3 L1382.8,1533.3 L1384.8,1533.3 L1386.8,1533.2 L1388.7,1533.2 L1390.7,1533.2 L1392.7,1533.2 L1394.7,1533.2 L1396.7,1533.2 L1398.7,1533.2 L1400.7,1533.2 L1402.7,1533.1 L1404.7,1533.1 L1406.7,1533.1 L1408.7,1533.1 L1410.7,1533.1 L1412.7,1533.1 L1414.7,1533.1 L1416.7,1533.1 L1418.7,1533.0 L1420.7,1533.0 L1422.7,1533.0 L1424.7,1533.0 L1426.7,1533.0 L1428.7,1533.0 L1430.7,1533.0 L1432.7,1533.0 L1434.7,1533.0 L1436.7,1532.9 L1438.7,1532.9 L1440.7,1532.9 L1442.7,1532.9 L1444.7,1532.9 L1446.7,1532.9 L1448.7,1532.9 L1450.7,1532.9 L1452.6,1532.9 L1454.6,1532.9 L1456.6,1532.8 L1458.6,1532.8 L1460.6,1532.8 L1462.6,1532.8 L1464.6,1532.8 L1466.6,1532.8 L1468.6,1532.8 L1470.6,1532.8 L1472.6,1532.8 L1474.6,1532.8 L1476.6,1532.8 L1478.6,1532.8 L1480.6,1532.8 L1482.6,1532.8 L1484.6,1532.8 L1486.6,1532.8 L1488.6,1532.8 L1490.6,1532.8 L1492.6,1532.8 L1494.6,1532.8 L1496.6,1532.8 L1498.6,1532.8 L1500.6,1532.8 L1502.6,1532.8 L1504.6,1532.8 L1506.6,1532.8 L1508.5,1532.8 L1510.5,1532.9 L1512.5,1532.9 L1514.5,1532.9 L1516.5,1532.9 L1518.5,1532.9 L1520.5,1532.9 L1522.5,1532.9 L1524.5,1533.0 L1526.5,1533.0 L1528.5,1533.0 L1530.5,1533.0 L1532.5,1533.0 L1534.5,1533.1 L1536.5,1533.1 L1538.5,1533.1 L1540.5,1533.1 L1542.5,1533.2 L1544.5,1533.2 L1546.5,1533.2 L1548.5,1533.2 L1550.5,1533.3 L1552.5,1533.3 L1554.5,1533.3 L1556.5,1533.4 L1558.5,1533.4 L1560.5,1533.5 L1562.5,1533.5 L1564.5,1533.5 L1566.5,1533.6 L1568.5,1533.6 L1570.5,1533.7 L1572.5,1533.7 L1574.5,1533.8 L1576.4,1533.8 L1578.4,1533.9 L1580.4,1533.9 L1582.4,1534.0 L1584.4,1534.0 L1586.4,1534.1 L1588.4,1534.1 L1590.4,1534.2 L1592.4,1534.3 L1594.4,1534.3 L1596.4,1534.4 L1598.4,1534.5 L1600.4,1534.5 L1602.4,1534.6 L1604.4,1534.7 L1606.4,1534.7 L1608.4,1534.8 L1610.4,1534.9 L1612.4,1535.0 L1614.4,1535.0 L1616.4,1535.1 L1618.4,1535.2 L1620.4,1535.3 L1622.4,1535.3 L1624.4,1535.4 L1626.4,1535.5 L1628.4,1535.6 L1630.4,1535.7 L1632.4,1535.7 L1634.4,1535.8 L1636.4,1535.9 L1638.4,1536.0 L1640.4,1536.1 L1642.4,1536.2 L1644.4,1536.3 L1646.4,1536.3 L1648.4,1536.4 L1650.4,1536.5 L1652.4,1536.6 L1654.4,1536.7 L1656.4,1536.8 L1658.4,1536.9 L1660.4,1537.0 L1662.4,1537.0 L1664.4,1537.1 L1666.4,1537.2 L1668.4,1537.3 L1670.4,1537.4 L1672.4,1537.5 L1674.4,1537.6 L1676.4,1537.7 L1678.4,1537.8 L1680.4,1537.9 L1682.4,1537.9 L1684.4,1538.0 L1686.4,1538.1 L1688.4,1538.2 L1690.4,1538.3 L1692.4,1538.4 L1694.4,1538.5 L1696.4,1538.6 L1698.4,1538.7 L1700.4,1538.7 L1702.4,1538.8 L1704.4,1538.9 L1706.4,1539.0 L1708.4,1539.1 L1710.4,1539.2 L1712.4,1539.3 L1714.4,1539.3 L1716.4,1539.4 L1718.4,1539.5 L1720.4,1539.6 L1722.4,1539.7 L1724.4,1539.8 L1726.4,1539.8 L1728.4,1539.9 L1730.4,1540.0 L1732.4,1540.1 L1734.4,1540.1 L1736.4,1540.2 L1738.4,1540.3 L1740.4,1540.4 L1742.4,1540.4 L1744.4,1540.5 L1746.4,1540.6 L1748.4,1540.7 L1750.4,1540.7 L1752.4,1540.8 L1754.4,1540.9 L1756.4,1540.9 L1758.4,1541.0 L1760.4,1541.0 L1762.4,1541.1 L1764.4,1541.2 L1766.4,1541.2 L1768.4,1541.3 L1770.4,1541.3 L1772.4,1541.4 L1774.4,1541.4 L1776.4,1541.5 L1778.4,1541.5 L1780.4,1541.6 L1782.4,1541.6 L1784.4,1541.7 L1786.4,1541.7 L1788.4,1541.7 L1790.3,1541.8 L1792.3,1541.8 L1794.3,1541.8 L1796.3,1541.9 L1798.3,1541.9 L1800.3,1541.9 L1802.3,1541.9 L1804.3,1542.0 L1806.3,1542.0 L1808.3,1542.0 L1810.3,1542.0 L1812.3,1542.0 L1814.3,1542.1 L1816.3,1542.1 L1818.3,1542.1 L1820.3,1542.1 L1822.3,1542.1 L1824.3,1542.1 L1826.3,1542.1 L1828.3,1542.1 L1830.3,1542.1 L1832.3,1542.0 L1834.3,1542.0 L1836.3,1542.0 L1838.3,1542.0 L1840.3,1542.0 L1842.3,1542.0 L1844.2,1541.9 L1846.2,1541.9 L1848.2,1541.9 L1850.2,1541.8 L1852.2,1541.8 L1854.2,1541.8 L1856.2,1541.7 L1858.2,1541.7 L1860.2,1541.6 L1862.2,1541.6 L1864.2,1541.5 L1866.2,1541.5 L1868.2,1541.4 L1870.2,1541.3 L1872.2,1541.3 L1874.2,1541.2 L1876.2,1541.1 L1878.1,1541.0 L1880.1,1541.0 L1882.1,1540.9 L1884.1,1540.8 L1886.1,1540.7 L1888.1,1540.6 L1890.1,1540.5 L1892.1,1540.4 L1894.1,1540.3 L1896.1,1540.2 L1898.1,1540.1 L1900.1,1540.0 L1902.1,1539.8 L1904.0,1539.7 L1906.0,1539.6 L1908.0,1539.5 L1910.0,1539.3 L1912.0,1539.2 L1914.0,1539.0"/>
<path stroke="#0000ff" d="M268.7,860.0 L269.8,858.2 L270.9,856.4 L271.9,854.6 L272.8,852.7 L273.7,850.9 L274.5,849.1 L275.2,847.3 L275.9,845.5 L276.6,843.6 L277.2,841.8 L277.8,840.0 L278.4,838.1 L279.0,836.3 L279.5,834.4 L280.1,832.6 L280.6,830.7 L281.2,828.8 L281.7,826.9 L282.3,825.0 L282.9,823.1 L283.5,821.2 L284.2,819.2 L284.9,817.3 L285.6,815.3 L286.4,813.3 L287.2,811.4 L288.0,809.5 L288.9,807.5 L289.8,805.6 L290.8,803.8 L291.8,801.9 L292.8,800.2 L293.9,798.4 L295.0,796.8 L296.2,795.1 L297.5,793.6 L298.8,792.1 L300.1,790.8 L301.5,789.5 L302.9,788.3 L304.4,787.2 L306.0,786.2 L307.6,785.3 L309.3,784.5 L311.0,783.9 L312.7,783.3 L314.5,782.8 L316.4,782.5 L318.3,782.2 L320.2,781.9 L322.2,781.8 L324.1,781.6 L326.2,781.6 L328.2,781.5 L330.2,781.5 L332.3,781.5 L334.3,781.5 L336.4,781.6 L338.5,781.6 L340.5,781.6 L342.6,781.6 L344.7,781.6 L346.7,781.6 L348.7,781.5 L350.7,781.3 L352.7,781.2 L354.7,781.0 L356.7,780.7 L358.6,780.4 L360.6,780.2 L362.5,779.8 L364.5,779.5 L366.4,779.2 L368.3,778.8 L370.2,778.4 L372.2,778.1 L374.1,777.7 L376.0,777.3 L378.0,776.9 L379.9,776.6 L381.9,776.2 L383.8,775.9 L385.8,775.6 L387.8,775.3 L389.8,775.0 L391.8,774.7 L393.8,774.5 L395.9,774.3 L397.9,774.2 L400.0,774.1 L402.1,773.9 L404.1,773.8 L406.2,773.6 L408.2,773.3 L410.2,773.0 L412.1,772.7 L414.0,772.2 L415.8,771.6 L417.5,770.8 L419.2,769.9 L420.7,768.9 L422.3,767.8 L423.7,766.6 L425.1,765.3 L426.5,763.9 L427.8,762.5 L429.0,761.0 L430.3,759.5 L431.5,758.0 L432.7,756.4 L433.8,754.8 L434.9,753.1 L436.0,751.5 L437.1,749.8 L438.2,748.1 L439.2,746.3 L440.2,744.6 L441.1,742.8 L442.1,741.0 L443.0,739.2 L443.9,737.4 L444.8,735.5 L445.6,733.7 L446.5,731.8 L447.3,729.9 L448.1,728.0 L448.9,726.2 L449.6,724.3 L450.4,722.4 L451.1,720.5 L451.8,718.6 L452.5,716.7 L453.2,714.8 L453.9,712.9 L454.6,711.0 L455.2,709.1 L455.9,707.2 L456.5,705.3 L457.2,703.4 L457.8,701.5 L458.4,699.6 L459.0,697.7 L459.7,695.8 L460.3,693.9 L460.9,692.0 L461.5,690.1 L462.1,688.2 L462.7,686.3 L463.3,684.4 L463.9,682.5 L464.5,680.6 L465.1,678.8 L465.8,676.9 L466.4,675.0 L467.0,673.1 L467.7,671.3 L468.3,669.4 L469.0,667.5 L469.6,665.7 L470.3,663.8 L471.0,662.0 L471.7,660.1 L472.4,658.3 L473.1,656.4 L473.9,654.6 L474.6,652.7 L475.4,650.9 L476.2,649.1 L477.0,647.3 L477.8,645.4 L478.7,643.6 L479.6,641.8 L480.4,640.0 L481.4,638.2 L482.3,636.4 L483.3,634.6 L484.3,632.9 L485.3,631.1 L486.3,629.3 L487.4,627.6 L488.5,625.8 L489.6,624.1 L490.8,622.3 L492.0,620.6 L493.2,618.9 L494.4,617.2 L495.7,615.5 L497.1,613.9 L498.4,612.4 L499.9,611.0 L501.3,609.6 L502.8,608.5 L504.4,607.4 L506.0,606.6 L507.7,605.9 L509.4,605.4 L511.1,605.1 L512.9,605.0 L514.7,605.1 L516.5,605.4 L518.2,605.9 L519.9,606.6 L521.5,607.5 L523.1,608.6 L524.6,609.8 L526.1,611.2 L527.4,612.7 L528.8,614.2 L530.0,615.9 L531.2,617.6 L532.3,619.4 L533.4,621.2 L534.4,623.0 L535.3,624.8 L536.2,626.7 L537.0,628.6 L537.8,630.4 L538.5,632.3 L539.2,634.2 L539.9,636.1 L540.5,638.0 L541.1,640.0 L541.6,641.9 L542.2,643.8 L542.7,645.8 L543.2,647.7 L543.7,649.6 L544.2,651.6 L544.7,653.5 L545.2,655.5 L545.7,657.4 L546.2,659.4 L546.6,661.3 L547.1,663.3 L547.6,665.2 L548.0,667.2 L548.4,669.1 L548.9,671.1 L549.3,673.0 L549.7,675.0 L550.2,676.9 L550.6,678.9 L551.0,680.8 L551.4,682.8 L551.8,684.7 L552.2,686.7 L552.6,688.7 L552.9,690.6 L553.3,692.6 L553.7,694.5 L554.1,696.5 L554.4,698.5 L554.8,700.4 L555.1,702.4 L555.5,704.4 L555.8,706.3 L556.2,708.3 L556.5,710.3 L556.8,712.2 L557.2,714.2 L557.5,716.2 L557.8,718.1 L558.1,720.1 L558.5,722.1 L558.8,724.0 L559.1,726.0 L559.4,728.0 L559.7,730.0 L560.0,731.9 L560.3,733.9 L560.6,735.9 L560.9,737.9 L561.2,739.8 L561.4,741.8 L561.7,743.8 L562.0,745.8 L562.3,747.7 L562.6,749.7 L562.8,751.7 L563.1,753.7 L563.4,755.7 L563.6,757.6 L563.9,759.6 L564.2,761.6 L564.4,763.6 L564.7,765.5 L565.0,767.5 L565.2,769.5 L565.5,771.5 L565.7,773.5 L566.0,775.5 L566.3,777.4 L566.5,779.4 L566.8,781.4 L567.0,783.4 L567.3,785.4 L567.5,787.3 L567.8,789.3 L568.0,791.3 L568.3,793.3 L568.5,795.3 L568.8,797.3 L569.0,799.2 L569.2,801.2 L569.5,803.2 L569.7,805.2 L570.0,807.2 L570.2,809.2 L570.4,811.2 L570.7,813.1 L570.9,815.1 L571.1,817.1 L571.4,819.1 L571.6,821.1 L571.8,823.1 L572.1,825.1 L572.3,827.1 L572.5,829.0 L572.8,831.0 L573.0,833.0 L573.2,835.0 L573.4,837.0 L573.7,839.0 L573.9,841.0 L574.1,843.0 L574.4,844.9 L574.6,846.9 L574.8,848.9 L575.0,850.9 L575.2,852.9 L575.5,854.9 L575.7,856.9 L575.9,858.9 L576.1,860.9 L576.4,862.8 L576.6,864.8 L576.8,866.8 L577.0,868.8 L577.2,870.8 L577.5,872.8 L577.7,874.8 L577.9,876.8 L578.1,878.8 L578.3,880.8 L578.6,882.7 L578.8,884.7 L579.0,886.7 L579.2,888.7 L579.4,890.7 L579.6,892.7 L579.9,894.7 L580.1,896.7 L580.3,898.7 L580.5,900.7 L580.7,902.6 L581.0,904.6 L581.2,906.6 L581.4,908.6 L581.6,910.6 L581.8,912.6 L582.0,914.6 L582.3,916.6 L582.5,918.6 L582.7,920.6 L582.9,922.6 L583.1,924.5 L583.4,926.5 L583.6,928.5 L583.8,930.5 L584.0,932.5 L584.2,934.5 L584.5,936.5 L584.7,938.5 L584.9,940.5 L585.1,942.4 L585.4,944.4 L585.6,946.4 L585.8,948.4 L586.0,950.4 L586.3,952.4 L586.5,954.4 L586.7,956.4 L586.9,958.4 L587.2,960.3 L587.4,962.3 L587.6,964.3 L587.9,966.3 L588.1,968.3 L588.3,970.3 L588.5,972.3 L588.8,974.3 L589.0,976.2 L589.2,978.2 L589.5,980.2 L589.7,982.2 L590.0,984.2 L590.2,986.2 L590.4,988.2 L590.7,990.2 L590.9,992.1 L591.2,994.1 L591.4,996.1 L591.6,998.1 L591.9,1000.1 L592.1,1002.1 L592.4,1004.0 L592.6,1006.0 L592.9,1008.0 L593.1,1010.0 L593.4,1012.0 L593.6,1014.0 L593.9,1016.0 L594.1,1017.9 L594.4,1019.9 L594.6,1021.9 L594.9,1023.9 L595.2,1025.9 L595.4,1027.8 L595.7,1029.8 L596.0,1031.8 L596.2,1033.8 L596.5,1035.8 L596.8,1037.7 L597.0,1039.7 L597.3,1041.7 L597.6,1043.7 L597.8,1045.7 L598.1,1047.6 L598.4,1049.6 L598.7,1051.6 L598.9,1053.6 L599.2,1055.5 L599.5,1057.5 L599.8,1059.5 L600.1,1061.5 L600.4,1063.5 L600.7,1065.4 L601.0,1067.4 L601.2,1069.4 L601.5,1071.4 L601.8,1073.3 L602.1,1075.3 L602.4,1077.3 L602.7,1079.2 L603.0,1081.2 L603.4,1083.2 L603.7,1085.2 L604.0,1087.1 L604.3,1089.1 L604.6,1091.1 L604.9,1093.0 L605.2,1095.0 L605.5,1097.0 L605.9,1098.9 L606.2,1100.9 L606.5,1102.9 L606.8,1104.8 L607.2,1106.8 L607.5,1108.8 L607.8,1110.7 L608.2,1112.7 L608.5,1114.7 L608.9,1116.6 L609.2,1118.6 L609.5,1120.6 L609.9,1122.5 L610.2,1124.5 L610.6,1126.5 L611.0,1128.4 L611.3,1130.4 L611.7,1132.3 L612.0,1134.3 L612.4,1136.3 L612.8,1138.2 L613.1,1140.2 L613.5,1142.1 L613.9,1144.1 L614.3,1146.0 L614.6,1148.0 L615.0,1150.0 L615.4,1151.9 L615.8,1153.9 L616.2,1155.8 L616.6,1157.8 L617.0,1159.7 L617.4,1161.7 L617.8,1163.6 L618.2,1165.6 L618.7,1167.5 L619.1,1169.5 L619.6,1171.4 L620.0,1173.4 L620.5,1175.3 L620.9,1177.3 L621.4,1179.2 L621.9,1181.1 L622.4,1183.1 L622.9,1185.0 L623.5,1187.0 L624.0,1188.9 L624.6,1190.9 L625.1,1192.8 L625.7,1194.7 L626.3,1196.7 L626.9,1198.6 L627.5,1200.5 L628.2,1202.5 L628.8,1204.4 L629.5,1206.3 L630.2,1208.3 L630.9,1210.2 L631.6,1212.1 L632.3,1214.0 L633.1,1216.0 L633.9,1217.9 L634.7,1219.8 L635.5,1221.7 L636.3,1223.5 L637.2,1225.4 L638.1,1227.2 L639.0,1229.0 L639.9,1230.8 L640.9,1232.6 L641.9,1234.4 L642.9,1236.1 L644.0,1237.8 L645.1,1239.4 L646.2,1241.0 L647.3,1242.6 L648.5,1244.2 L649.7,1245.7 L650.9,1247.1 L652.2,1248.5 L653.5,1249.9 L654.9,1251.2 L656.3,1252.5 L657.7,1253.7 L659.1,1254.8 L660.6,1255.9 L662.2,1257.0 L663.8,1257.9 L665.4,1258.8 L667.1,1259.7 L668.8,1260.5 L670.5,1261.2 L672.3,1261.8 L674.1,1262.4 L676.0,1262.9 L677.9,1263.3 L679.8,1263.7 L681.8,1264.1 L683.8,1264.3 L685.8,1264.5 L687.8,1264.7 L689.8,1264.7 L691.9,1264.8 L694.0,1264.8 L696.0,1264.7 L698.1,1264.5 L700.2,1264.4 L702.3,1264.1 L704.4,1263.9 L706.5,1263.5 L708.6,1263.2 L710.7,1262.7 L712.7,1262.3 L714.8,1261.8 L716.8,1261.2 L718.9,1260.6 L720.9,1260.0 L722.9,1259.3 L724.8,1258.6 L726.8,1257.9 L728.7,1257.1 L730.5,1256.3 L732.4,1255.4 L734.2,1254.6 L736.0,1253.7 L737.8,1252.7 L739.5,1251.8 L741.2,1250.8 L742.9,1249.7 L744.6,1248.7 L746.2,1247.6 L747.8,1246.5 L749.4,1245.4 L751.0,1244.3 L752.6,1243.1 L754.2,1241.9 L755.7,1240.7 L757.2,1239.5 L758.7,1238.3 L760.2,1237.0 L761.7,1235.7 L763.2,1234.5 L764.7,1233.2 L766.1,1231.9 L767.6,1230.5 L769.0,1229.2 L770.5,1227.9 L771.9,1226.5 L773.3,1225.2 L774.8,1223.8 L776.2,1222.4 L777.6,1221.1 L779.0,1219.7 L780.5,1218.3 L781.9,1217.0 L783.3,1215.6 L784.8,1214.2 L786.2,1212.8 L787.7,1211.5 L789.1,1210.1 L790.6,1208.7 L792.0,1207.4 L793.5,1206.0 L795.0,1204.7 L796.5,1203.3 L797.9,1202.0 L799.4,1200.6 L800.9,1199.3 L802.4,1198.0 L804.0,1196.6 L805.5,1195.3 L807.0,1194.0 L808.6,1192.7 L810.1,1191.5 L811.7,1190.2 L813.3,1188.9 L814.8,1187.7 L816.4,1186.4 L818.0,1185.2 L819.7,1184.0 L821.3,1182.8 L822.9,1181.6 L824.6,1180.4 L826.3,1179.3 L828.0,1178.1 L829.7,1177.0 L831.4,1175.9 L833.1,1174.8 L834.8,1173.7 L836.6,1172.7 L838.4,1171.7 L840.2,1170.6 L842.0,1169.7 L843.8,1168.7 L845.6,1167.9 L847.4,1167.0 L849.2,1166.3 L851.1,1165.6 L852.9,1165.0 L854.7,1164.5 L856.6,1164.1 L858.4,1163.8 L860.2,1163.6 L862.0,1163.5 L863.8,1163.5 L865.6,1163.7 L867.4,1164.0 L869.2,1164.5 L870.9,1165.1 L872.6,1165.8 L874.3,1166.6 L876.1,1167.6 L877.7,1168.6 L879.4,1169.7 L881.1,1170.8 L882.7,1172.0 L884.3,1173.2 L885.9,1174.4 L887.5,1175.7 L889.1,1176.9 L890.7,1178.2 L892.2,1179.5 L893.7,1180.8 L895.2,1182.2 L896.7,1183.5 L898.2,1184.9 L899.7,1186.2 L901.1,1187.6 L902.6,1189.0 L904.0,1190.4 L905.4,1191.8 L906.8,1193.3 L908.1,1194.7 L909.5,1196.2 L910.8,1197.7 L912.2,1199.1 L913.5,1200.6 L914.8,1202.1 L916.0,1203.7 L917.3,1205.2 L918.6,1206.7 L919.8,1208.3 L921.0,1209.8 L922.3,1211.4 L923.5,1213.0 L924.7,1214.5 L925.9,1216.1 L927.0,1217.7 L928.2,1219.3 L929.4,1220.9 L930.5,1222.5 L931.7,1224.2 L932.8,1225.8 L934.0,1227.4 L935.1,1229.1 L936.2,1230.7 L937.3,1232.4 L938.5,1234.0 L939.6,1235.7 L940.7,1237.3 L941.8,1239.0 L942.9,1240.7 L944.0,1242.3 L945.1,1244.0 L946.2,1245.7 L947.3,1247.3 L948.3,1249.0 L949.4,1250.7 L950.5,1252.4 L951.6,1254.0 L952.7,1255.7 L953.8,1257.4 L954.9,1259.1 L956.0,1260.7 L957.1,1262.4 L958.2,1264.1 L959.3,1265.7 L960.4,1267.4 L961.5,1269.1 L962.6,1270.7 L963.7,1272.4 L964.8,1274.1 L966.0,1275.7 L967.1,1277.4 L968.2,1279.1 L969.3,1280.7 L970.4,1282.4 L971.6,1284.1 L972.7,1285.7 L973.8,1287.4 L974.9,1289.0 L976.1,1290.7 L977.2,1292.3 L978.3,1294.0 L979.5,1295.7 L980.6,1297.3 L981.7,1299.0 L982.9,1300.6 L984.0,1302.3 L985.1,1303.9 L986.3,1305.6 L987.4,1307.2 L988.6,1308.9 L989.7,1310.5 L990.8,1312.2 L992.0,1313.8 L993.1,1315.5 L994.3,1317.1 L995.4,1318.7 L996.6,1320.4 L997.7,1322.0 L998.9,1323.7 L1000.0,1325.3 L1001.2,1327.0 L1002.3,1328.6 L1003.5,1330.2 L1004.6,1331.9 L1005.8,1333.5 L1006.9,1335.2 L1008.1,1336.8 L1009.2,1338.4 L1010.4,1340.1 L1011.5,1341.7 L1012.7,1343.4 L1013.8,1345.0 L1015.0,1346.6 L1016.2,1348.3 L1017.3,1349.9 L1018.5,1351.5 L1019.6,1353.2 L1020.8,1354.8 L1021.9,1356.4 L1023.1,1358.1 L1024.2,1359.7 L1025.4,1361.3 L1026.5,1363.0 L1027.7,1364.6 L1028.9,1366.2 L1030.0,1367.9 L1031.2,1369.5 L1032.3,1371.1 L1033.5,1372.8 L1034.6,1374.4 L1035.8,1376.0 L1036.9,1377.6 L1038.1,1379.3 L1039.2,1380.9 L1040.4,1382.5 L1041.5,1384.2 L1042.7,1385.8 L1043.8,1387.4 L1044.9,1389.0 L1046.1,1390.7 L1047.2,1392.3 L1048.4,1393.9 L1049.5,1395.6 L1050.7,1397.2 L1051.8,1398.8 L1052.9,1400.4 L1054.1,1402.1 L1055.2,1403.7 L1056.3,1405.3 L1057.5,1406.9 L1058.6,1408.6 L1059.7,1410.2 L1060.9,1411.8 L1062.0,1413.4 L1063.1,1415.1 L1064.2,1416.7 L1065.4,1418.3 L1066.5,1419.9 L1067.6,1421.6 L1068.8,1423.2 L1069.9,1424.8 L1071.0,1426.4 L1072.2,1428.0 L1073.3,1429.7 L1074.5,1431.3 L1075.6,1432.9 L1076.8,1434.5 L1077.9,1436.1 L1079.1,1437.7 L1080.3,1439.3 L1081.4,1440.9 L1082.6,1442.5 L1083.8,1444.1 L1085.0,1445.7 L1086.2,1447.2 L1087.4,1448.8 L1088.6,1450.4 L1089.9,1452.0 L1091.1,1453.5 L1092.4,1455.1 L1093.6,1456.6 L1094.9,1458.2 L1096.2,1459.7 L1097.5,1461.3 L1098.8,1462.8 L1100.1,1464.3 L1101.4,1465.8 L1102.7,1467.3 L1104.1,1468.8 L1105.5,1470.3 L1106.8,1471.8 L1108.2,1473.3 L1109.6,1474.8 L1111.1,1476.3 L1112.5,1477.7 L1113.9,1479.2 L1115.4,1480.6 L1116.9,1482.0 L1118.4,1483.4 L1119.9,1484.8 L1121.4,1486.2 L1122.9,1487.6 L1124.4,1488.9 L1126.0,1490.2 L1127.5,1491.6 L1129.1,1492.9 L1130.7,1494.1 L1132.3,1495.4 L1133.9,1496.7 L1135.5,1497.9 L1137.1,1499.1 L1138.7,1500.3 L1140.4,1501.4 L1142.1,1502.6 L1143.7,1503.7 L1145.4,1504.8 L1147.1,1505.9 L1148.8,1506.9 L1150.5,1507.9 L1152.3,1508.9 L1154.0,1509.9 L1155.8,1510.9 L1157.5,1511.8 L1159.3,1512.7 L1161.1,1513.5 L1162.9,1514.4 L1164.7,1515.2 L1166.5,1515.9 L1168.3,1516.7 L1170.1,1517.4 L1172.0,1518.0 L1173.8,1518.7 L1175.7,1519.3 L1177.6,1519.9 L1179.5,1520.5 L1181.3,1521.0 L1183.2,1521.5 L1185.1,1522.0 L1187.1,1522.5 L1189.0,1522.9 L1190.9,1523.3 L1192.8,1523.7 L1194.8,1524.1 L1196.7,1524.4 L1198.7,1524.8 L1200.6,1525.1 L1202.6,1525.4 L1204.6,1525.7 L1206.5,1525.9 L1208.5,1526.2 L1210.5,1526.4 L1212.5,1526.6 L1214.4,1526.9 L1216.4,1527.1 L1218.4,1527.2 L1220.4,1527.4 L1222.4,1527.6 L1224.4,1527.7 L1226.4,1527.9 L1228.4,1528.0 L1230.4,1528.2 L1232.4,1528.3 L1234.4,1528.4 L1236.4,1528.5 L1238.5,1528.7 L1240.5,1528.8 L1242.5,1528.9 L1244.5,1529.0 L1246.5,1529.1 L1248.5,1529.2 L1250.5,1529.3 L1252.5,1529.4 L1254.5,1529.5 L1256.5,1529.6 L1258.5,1529.7 L1260.5,1529.8 L1262.5,1529.9 L1264.5,1530.0 L1266.5,1530.1 L1268.5,1530.1 L1270.5,1530.2 L1272.5,1530.3 L1274.6,1530.4 L1276.6,1530.5 L1278.6,1530.5 L1280.6,1530.6 L1282.6,1530.7 L1284.6,1530.7 L1286.6,1530.8 L1288.6,1530.9 L1290.6,1530.9 L1292.6,1531.0 L1294.6,1531.1 L1296.6,1531.1 L1298.6,1531.2 L1300.6,1531.2 L1302.6,1531.3 L1304.6,1531.3 L1306.6,1531.4 L1308.6,1531.4 L1310.6,1531.5 L1312.6,1531.5 L1314.6,1531.6 L1316.6,1531.6 L1318.6,1531.6 L1320.6,1531.7 L1322.6,1531.7 L1324.6,1531.8 L1326.6,1531.8 L1328.6,1531.8 L1330.6,1531.9 L1332.6,1531.9 L1334.6,1531.9 L1336.6,1532.0 L1338.6,1532.0 L1340.6,1532.0 L1342.6,1532.1 L1344.6,1532.1 L1346.6,1532.1 L1348.6,1532.1 L1350.6,1532.2 L1352.6,1532.2 L1354.6,1532.2 L1356.6,1532.2 L1358.6,1532.2 L1360.6,1532.3 L1362.6,1532.3 L1364.6,1532.3 L1366.6,1532.3 L1368.6,1532.3 L1370.6,1532.4 L1372.6,1532.4 L1374.6,1532.4 L1376.6,1532.4 L1378.6,1532.4 L1380.6,1532.4 L1382.6,1532.4 L1384.6,1532.5 L1386.6,1532.5 L1388.6,1532.5 L1390.6,1532.5 L1392.6,1532.5 L1394.6,1532.5 L1396.6,1532.5 L1398.6,1532.5 L1400.6,1532.6 L1402.6,1532.6 L1404.6,1532.6 L1406.6,1532.6 L1408.6,1532.6 L1410.6,1532.6 L1412.6,1532.6 L1414.5,1532.6 L1416.5,1532.6 L1418.5,1532.7 L1420.5,1532.7 L1422.5,1532.7 L1424.5,1532.7 L1426.5,1532.7 L1428.5,1532.7 L1430.5,1532.7 L1432.5,1532.7 L1434.5,1532.8 L1436.5,1532.8 L1438.5,1532.8 L1440.5,1532.8 L1442.5,1532.8 L1444.5,1532.8 L1446.5,1532.9 L1448.5,1532.9 L1450.5,1532.9 L1452.5,1532.9 L1454.5,1532.9 L1456.5,1532.9 L1458.5,1533.0 L1460.5,1533.0 L1462.5,1533.0 L1464.5,1533.0 L1466.5,1533.0 L1468.5,1533.1 L1470.5,1533.1 L1472.5,1533.1 L1474.5,1533.1 L1476.5,1533.2 L1478.4,1533.2 L1480.4,1533.2 L1482.4,1533.3 L1484.4,1533.3 L1486.4,1533.3 L1488.4,1533.4 L1490.4,1533.4 L1492.4,1533.4 L1494.4,1533.5 L1496.4,1533.5 L1498.4,1533.6 L1500.4,1533.6 L1502.4,1533.6 L1504.4,1533.7 L1506.4,1533.7 L1508.4,1533.8 L1510.4,1533.8 L1512.4,1533.9 L1514.4,1533.9 L1516.4,1534.0 L1518.4,1534.0 L1520.4,1534.1 L1522.4,1534.1 L1524.4,1534.2 L1526.4,1534.3 L1528.4,1534.3 L1530.4,1534.4 L1532.4,1534.5 L1534.4,1534.5 L1536.4,1534.6 L1538.4,1534.7 L1540.3,1534.7 L1542.3,1534.8 L1544.3,1534.9 L1546.3,1535.0 L1548.3,1535.0 L1550.3,1535.1 L1552.3,1535.2 L1554.3,1535.3 L1556.3,1535.4 L1558.3,1535.4 L1560.3,1535.5 L1562.3,1535.6 L1564.3,1535.7 L1566.3,1535.8 L1568.3,1535.9 L1570.3,1536.0 L1572.3,1536.1 L1574.3,1536.2 L1576.3,1536.2 L1578.3,1536.3 L1580.3,1536.4 L1582.3,1536.5 L1584.3,1536.6 L1586.3,1536.7 L1588.3,1536.8 L1590.3,1536.9 L1592.3,1537.0 L1594.3,1537.1 L1596.3,1537.2 L1598.3,1537.3 L1600.3,1537.4 L1602.3,1537.6 L1604.3,1537.7 L1606.3,1537.8 L1608.3,1537.9 L1610.3,1538.0 L1612.3,1538.1 L1614.3,1538.2 L1616.3,1538.3 L1618.3,1538.4 L1620.3,1538.5 L1622.3,1538.6 L1624.3,1538.7 L1626.3,1538.9 L1628.3,1539.0 L1630.2,1539.1 L1632.2,1539.2 L1634.2,1539.3 L1636.2,1539.4 L1638.2,1539.5 L1640.2,1539.6 L1642.2,1539.8 L1644.2,1539.9 L1646.2,1540.0 L1648.2,1540.1 L1650.2,1540.2 L1652.2,1540.3 L1654.2,1540.5 L1656.2,1540.6 L1658.2,1540.7 L1660.2,1540.8 L1662.2,1540.9 L1664.2,1541.0 L1666.2,1541.1 L1668.2,1541.3 L1670.2,1541.4 L1672.2,1541.5 L1674.2,1541.6 L1676.2,1541.7 L1678.2,1541.8 L1680.2,1541.9 L1682.2,1542.1 L1684.2,1542.2 L1686.2,1542.3 L1688.2,1542.4 L1690.2,1542.5 L1692.2,1542.6 L1694.2,1542.7 L1696.2,1542.8 L1698.2,1543.0 L1700.2,1543.1 L1702.2,1543.2 L1704.2,1543.3 L1706.2,1543.4 L1708.2,1543.5 L1710.2,1543.6 L1712.2,1543.7 L1714.2,1543.8 L1716.2,1543.9 L1718.2,1544.0 L1720.2,1544.1 L1722.2,1544.2 L1724.2,1544.3 L1726.2,1544.4 L1728.2,1544.5 L1730.2,1544.6 L1732.2,1544.7 L1734.2,1544.8 L1736.2,1544.9 L1738.2,1545.0 L1740.2,1545.1 L1742.2,1545.2 L1744.2,1545.3 L1746.2,1545.4 L1748.2,1545.5 L1750.2,1545.6 L1752.2,1545.7 L1754.2,1545.8 L1756.2,1545.9 L1758.2,1545.9 L1760.2,1546.0 L1762.1,1546.1 L1764.1,1546.2 L1766.1,1546.3 L1768.1,1546.3 L1770.1,1546.4 L1772.1,1546.5 L1774.1,1546.6 L1776.1,1546.7 L1778.1,1546.7 L1780.1,1546.8 L1782.1,1546.9 L1784.1,1546.9 L1786.1,1547.0 L1788.1,1547.1 L1790.1,1547.1 L1792.1,1547.2 L1794.1,1547.2 L1796.1,1547.3 L1798.1,1547.4 L1800.1,1547.4 L1802.1,1547.5 L1804.1,1547.5 L1806.1,1547.6 L1808.1,1547.6 L1810.1,1547.7 L1812.1,1547.7 L1814.1,1547.8 L1816.1,1547.8 L1818.1,1547.8 L1820.1,1547.9 L1822.1,1547.9 L1824.1,1547.9 L1826.1,1548.0 L1828.1,1548.0 L1830.1,1548.0 L1832.1,1548.0 L1834.1,1548.1 L1836.1,1548.1 L1838.1,1548.1 L1840.1,1548.1 L1842.1,1548.1 L1844.1,1548.2 L1846.1,1548.2 L1848.1,1548.2 L1850.1,1548.2 L1852.1,1548.2 L1854.1,1548.2 L1856.1,1548.2 L1858.1,1548.2 L1860.1,1548.2 L1862.1,1548.2 L1864.1,1548.1 L1866.0,1548.1 L1868.0,1548.1 L1870.0,1548.1 L1872.0,1548.1 L1874.0,1548.0 L1876.0,1548.0 L1878.0,1548.0 L1880.0,1548.0 L1882.0,1547.9 L1884.0,1547.9 L1886.0,1547.8 L1888.0,1547.8 L1890.0,1547.7 L1892.0,1547.7 L1894.0,1547.6 L1896.0,1547.6 L1898.0,1547.5 L1900.0,1547.5 L1902.0,1547.4 L1904.0,1547.3 L1906.0,1547.3 L1908.0,1547.2 L1910.0,1547.1 L1912.0,1547.0 L1914.0,1547.0"/>
<path stroke="#008000" d="M266.1,1519.9 L268.1,1519.8 L270.1,1519.7 L272.1,1519.7 L274.1,1519.7 L276.1,1519.7 L278.1,1519.7 L280.1,1519.8 L282.1,1519.8 L284.1,1519.9 L286.1,1520.0 L288.1,1520.1 L290.1,1520.3 L292.0,1520.4 L294.0,1520.5 L296.0,1520.7 L298.0,1520.9 L300.0,1521.1 L302.0,1521.3 L304.0,1521.4 L306.0,1521.7 L307.9,1521.9 L309.9,1522.1 L311.9,1522.3 L313.9,1522.5 L315.9,1522.7 L317.9,1522.9 L319.9,1523.2 L321.8,1523.4 L323.8,1523.6 L325.8,1523.8 L327.8,1524.0 L329.8,1524.2 L331.8,1524.4 L333.8,1524.6 L335.7,1524.8 L337.7,1525.0 L339.7,1525.1 L341.7,1525.3 L343.7,1525.5 L345.7,1525.6 L347.7,1525.8 L349.7,1525.9 L351.7,1526.1 L353.6,1526.2 L355.6,1526.3 L357.6,1526.5 L359.6,1526.6 L361.6,1526.7 L363.6,1526.8 L365.6,1526.9 L367.6,1527.1 L369.6,1527.2 L371.6,1527.3 L373.6,1527.4 L375.6,1527.4 L377.6,1527.5 L379.5,1527.6 L381.5,1527.7 L383.5,1527.8 L385.5,1527.8 L387.5,1527.9 L389.5,1528.0 L391.5,1528.0 L393.5,1528.1 L395.5,1528.2 L397.5,1528.2 L399.5,1528.3 L401.5,1528.3 L403.5,1528.3 L405.5,1528.4 L407.5,1528.4 L409.5,1528.5 L411.5,1528.5 L413.5,1528.5 L415.5,1528.6 L417.5,1528.6 L419.5,1528.6 L421.5,1528.6 L423.5,1528.7 L425.5,1528.7 L427.5,1528.7 L429.5,1528.7 L431.5,1528.7 L433.5,1528.8 L435.5,1528.8 L437.5,1528.8 L439.5,1528.8 L441.5,1528.8 L443.5,1528.8 L445.5,1528.8 L447.5,1528.8 L449.5,1528.8 L451.5,1528.9 L453.5,1528.9 L455.5,1528.9 L457.4,1528.9 L459.4,1528.9 L461.4,1528.9 L463.4,1528.9 L465.4,1529.0 L467.4,1529.0 L469.4,1529.0 L471.4,1529.0 L473.4,1529.0 L475.4,1529.1 L477.4,1529.1 L479.4,1529.1 L481.4,1529.2 L483.4,1529.2 L485.4,1529.2 L487.4,1529.3 L489.4,1529.3 L491.4,1529.4 L493.4,1529.4 L495.4,1529.5 L497.4,1529.6 L499.4,1529.6 L501.4,1529.7 L503.4,1529.8 L505.4,1529.9 L507.4,1529.9 L509.4,1530.0 L511.4,1530.1 L513.4,1530.2 L515.4,1530.3 L517.4,1530.5 L519.4,1530.6 L521.4,1530.7 L523.4,1530.8 L525.4,1530.9 L527.3,1531.1 L529.3,1531.2 L531.3,1531.4 L533.3,1531.5 L535.3,1531.6 L537.3,1531.8 L539.3,1531.9 L541.3,1532.1 L543.3,1532.3 L545.3,1532.4 L547.3,1532.6 L549.3,1532.7 L551.3,1532.9 L553.2,1533.0 L555.2,1533.2 L557.2,1533.4 L559.2,1533.5 L561.2,1533.7 L563.2,1533.8 L565.2,1534.0 L567.2,1534.2 L569.2,1534.3 L571.2,1534.5 L573.2,1534.6 L575.2,1534.8 L577.2,1534.9 L579.2,1535.1 L581.1,1535.2 L583.1,1535.4 L585.1,1535.5 L587.1,1535.6 L589.1,1535.8 L591.1,1535.9 L593.1,1536.0 L595.1,1536.2 L597.1,1536.3 L599.1,1536.4 L601.1,1536.5 L603.1,1536.6 L605.1,1536.8 L607.1,1536.9 L609.1,1537.0 L611.1,1537.1 L613.1,1537.2 L615.1,1537.3 L617.1,1537.4 L619.1,1537.5 L621.1,1537.6 L623.1,1537.7 L625.0,1537.8 L627.0,1537.9 L629.0,1538.0 L631.0,1538.1 L633.0,1538.2 L635.0,1538.2 L637.0,1538.3 L639.0,1538.4 L641.0,1538.5 L643.0,1538.6 L645.0,1538.6 L647.0,1538.7 L649.0,1538.8 L651.0,1538.8 L653.0,1538.9 L655.0,1539.0 L657.0,1539.0 L659.0,1539.1 L661.0,1539.1 L663.0,1539.2 L665.0,1539.2 L667.0,1539.3 L669.0,1539.3 L671.0,1539.4 L673.0,1539.4 L675.0,1539.4 L677.0,1539.5 L679.0,1539.5 L681.0,1539.5 L683.0,1539.6 L685.0,1539.6 L687.0,1539.6 L689.0,1539.7 L691.0,1539.7 L693.0,1539.7 L695.0,1539.7 L697.0,1539.7 L699.0,1539.8 L701.0,1539.8 L703.0,1539.8 L705.0,1539.8 L707.0,1539.8 L709.0,1539.8 L711.0,1539.8 L713.0,1539.8 L715.0,1539.8 L717.0,1539.8 L719.0,1539.8 L721.0,1539.8 L723.0,1539.8 L725.0,1539.8 L727.0,1539.8 L729.0,1539.8 L731.0,1539.7 L733.0,1539.7 L735.0,1539.7 L737.0,1539.7 L739.0,1539.7 L741.0,1539.7 L743.0,1539.6 L744.9,1539.6 L746.9,1539.6 L748.9,1539.6 L750.9,1539.6 L752.9,1539.5 L754.9,1539.5 L756.9,1539.5 L758.9,1539.5 L760.9,1539.5 L762.9,1539.4 L764.9,1539.4 L766.9,1539.4 L768.9,1539.4 L770.9,1539.3 L772.9,1539.3 L774.9,1539.3 L776.9,1539.3 L778.9,1539.2 L780.9,1539.2 L782.9,1539.2 L784.9,1539.2 L786.9,1539.1 L788.9,1539.1 L790.9,1539.1 L792.9,1539.1 L794.9,1539.1 L796.9,1539.0 L798.9,1539.0 L800.9,1539.0 L802.9,1539.0 L804.9,1539.0 L806.9,1539.0 L808.9,1538.9 L810.9,1538.9 L812.9,1538.9 L814.9,1538.9 L816.9,1538.9 L818.9,1538.9 L820.9,1538.9 L822.9,1538.9 L824.9,1538.9 L826.9,1538.9 L828.9,1538.9 L830.9,1538.9 L832.9,1538.9 L834.9,1538.9 L836.9,1538.9 L838.9,1538.9 L840.9,1538.9 L842.9,1538.9 L844.9,1539.0 L846.9,1539.0 L848.9,1539.0 L850.9,1539.0 L852.8,1539.0 L854.8,1539.1 L856.8,1539.1 L858.8,1539.1 L860.8,1539.2 L862.8,1539.2 L864.8,1539.2 L866.8,1539.3 L868.8,1539.3 L870.8,1539.3 L872.8,1539.4 L874.8,1539.4 L876.8,1539.4 L878.8,1539.5 L880.8,1539.5 L882.8,1539.6 L884.8,1539.6 L886.8,1539.6 L888.8,1539.7 L890.8,1539.7 L892.8,1539.7 L894.8,1539.8 L896.8,1539.8 L898.8,1539.8 L900.8,1539.9 L902.8,1539.9 L904.8,1539.9 L906.8,1540.0 L908.8,1540.0 L910.8,1540.0 L912.8,1540.1 L914.8,1540.1 L916.8,1540.1 L918.8,1540.2 L920.8,1540.2 L922.8,1540.2 L924.8,1540.3 L926.8,1540.3 L928.8,1540.3 L930.8,1540.3 L932.8,1540.4 L934.8,1540.4 L936.8,1540.4 L938.8,1540.5 L940.8,1540.5 L942.7,1540.5 L944.7,1540.6 L946.7,1540.6 L948.7,1540.6 L950.7,1540.6 L952.7,1540.7 L954.7,1540.7 L956.7,1540.7 L958.7,1540.7 L960.7,1540.8 L962.7,1540.8 L964.7,1540.8 L966.7,1540.8 L968.7,1540.9 L970.7,1540.9 L972.7,1540.9 L974.7,1540.9 L976.7,1541.0 L978.7,1541.0 L980.7,1541.0 L982.7,1541.0 L984.7,1541.1 L986.7,1541.1 L988.7,1541.1 L990.7,1541.1 L992.7,1541.1 L994.7,1541.2 L996.7,1541.2 L998.7,1541.2 L1000.7,1541.2 L1002.7,1541.3 L1004.7,1541.3 L1006.7,1541.3 L1008.7,1541.3 L1010.7,1541.3 L1012.7,1541.4 L1014.7,1541.4 L1016.7,1541.4 L1018.7,1541.4 L1020.7,1541.4 L1022.7,1541.5 L1024.7,1541.5 L1026.7,1541.5 L1028.7,1541.5 L1030.7,1541.5 L1032.7,1541.5 L1034.7,1541.6 L1036.7,1541.6 L1038.7,1541.6 L1040.7,1541.6 L1042.7,1541.6 L1044.7,1541.7 L1046.7,1541.7 L1048.7,1541.7 L1050.7,1541.7 L1052.7,1541.7 L1054.7,1541.7 L1056.7,1541.8 L1058.7,1541.8 L1060.7,1541.8 L1062.7,1541.8 L1064.7,1541.8 L1066.6,1541.8 L1068.6,1541.8 L1070.6,1541.9 L1072.6,1541.9 L1074.6,1541.9 L1076.6,1541.9 L1078.6,1541.9 L1080.6,1541.9 L1082.6,1541.9 L1084.6,1542.0 L1086.6,1542.0 L1088.6,1542.0 L1090.6,1542.0 L1092.6,1542.0 L1094.6,1542.0 L1096.6,1542.0 L1098.6,1542.1 L1100.6,1542.1 L1102.6,1542.1 L1104.6,1542.1 L1106.6,1542.1 L1108.6,1542.1 L1110.6,1542.1 L1112.6,1542.1 L1114.6,1542.1 L1116.6,1542.2 L1118.6,1542.2 L1120.6,1542.2 L1122.6,1542.2 L1124.6,1542.2 L1126.6,1542.2 L1128.6,1542.2 L1130.6,1542.2 L1132.6,1542.2 L1134.6,1542.3 L1136.6,1542.3 L1138.6,1542.3 L1140.6,1542.3 L1142.6,1542.3 L1144.6,1542.3 L1146.6,1542.3 L1148.6,1542.3 L1150.6,1542.3 L1152.6,1542.3 L1154.6,1542.4 L1156.6,1542.4 L1158.6,1542.4 L1160.6,1542.4 L1162.6,1542.4 L1164.6,1542.4 L1166.6,1542.4 L1168.6,1542.4 L1170.6,1542.4 L1172.6,1542.4 L1174.6,1542.4 L1176.6,1542.5 L1178.6,1542.5 L1180.6,1542.5 L1182.6,1542.5 L1184.6,1542.5 L1186.6,1542.5 L1188.6,1542.5 L1190.6,1542.5 L1192.6,1542.5 L1194.6,1542.5 L1196.6,1542.5 L1198.6,1542.5 L1200.6,1542.6 L1202.6,1542.6 L1204.6,1542.6 L1206.6,1542.6 L1208.6,1542.6 L1210.6,1542.6 L1212.6,1542.6 L1214.6,1542.6 L1216.6,1542.6 L1218.6,1542.6 L1220.6,1542.6 L1222.6,1542.6 L1224.6,1542.6 L1226.6,1542.7 L1228.6,1542.7 L1230.6,1542.7 L1232.6,1542.7 L1234.5,1542.7 L1236.5,1542.7 L1238.5,1542.7 L1240.5,1542.7 L1242.5,1542.7 L1244.5,1542.7 L1246.5,1542.7 L1248.5,1542.7 L1250.5,1542.7 L1252.5,1542.7 L1254.5,1542.8 L1256.5,1542.8 L1258.5,1542.8 L1260.5,1542.8 L1262.5,1542.8 L1264.5,1542.8 L1266.5,1542.8 L1268.5,1542.8 L1270.5,1542.8 L1272.5,1542.8 L1274.5,1542.8 L1276.5,1542.8 L1278.5,1542.8 L1280.5,1542.8 L1282.5,1542.9 L1284.5,1542.9 L1286.5,1542.9 L1288.5,1542.9 L1290.5,1542.9 L1292.5,1542.9 L1294.5,1542.9 L1296.5,1542.9 L1298.5,1542.9 L1300.5,1542.9 L1302.5,1542.9 L1304.5,1542.9 L1306.5,1542.9 L1308.5,1542.9 L1310.5,1542.9 L1312.5,1543.0 L1314.5,1543.0 L1316.5,1543.0 L1318.5,1543.0 L1320.5,1543.0 L1322.5,1543.0 L1324.5,1543.0 L1326.5,1543.0 L1328.5,1543.0 L1330.5,1543.0 L1332.5,1543.0 L1334.5,1543.0 L1336.5,1543.0 L1338.5,1543.0 L1340.5,1543.1 L1342.5,1543.1 L1344.5,1543.1 L1346.5,1543.1 L1348.5,1543.1 L1350.5,1543.1 L1352.5,1543.1 L1354.5,1543.1 L1356.5,1543.1 L1358.5,1543.1 L1360.5,1543.1 L1362.5,1543.1 L1364.5,1543.1 L1366.5,1543.1 L1368.5,1543.2 L1370.5,1543.2 L1372.5,1543.2 L1374.5,1543.2 L1376.5,1543.2 L1378.5,1543.2 L1380.5,1543.2 L1382.5,1543.2 L1384.5,1543.2 L1386.5,1543.2 L1388.5,1543.2 L1390.5,1543.2 L1392.4,1543.2 L1394.4,1543.2 L1396.4,1543.3 L1398.4,1543.3 L1400.4,1543.3 L1402.4,1543.3 L1404.4,1543.3 L1406.4,1543.3 L1408.4,1543.3 L1410.4,1543.3 L1412.4,1543.3 L1414.4,1543.3 L1416.4,1543.3 L1418.4,1543.3 L1420.4,1543.3 L1422.4,1543.4 L1424.4,1543.4 L1426.4,1543.4 L1428.4,1543.4 L1430.4,1543.4 L1432.4,1543.4 L1434.4,1543.4 L1436.4,1543.4 L1438.4,1543.4 L1440.4,1543.4 L1442.4,1543.4 L1444.4,1543.4 L1446.4,1543.4 L1448.4,1543.5 L1450.4,1543.5 L1452.4,1543.5 L1454.4,1543.5 L1456.4,1543.5 L1458.4,1543.5 L1460.4,1543.5 L1462.4,1543.5 L1464.4,1543.5 L1466.4,1543.5 L1468.4,1543.5 L1470.4,1543.5 L1472.4,1543.6 L1474.4,1543.6 L1476.4,1543.6 L1478.4,1543.6 L1480.4,1543.6 L1482.4,1543.6 L1484.4,1543.6 L1486.4,1543.6 L1488.4,1543.6 L1490.4,1543.6 L1492.4,1543.6 L1494.4,1543.7 L1496.4,1543.7 L1498.4,1543.7 L1500.4,1543.7 L1502.4,1543.7 L1504.4,1543.7 L1506.4,1543.7 L1508.4,1543.7 L1510.4,1543.7 L1512.4,1543.7 L1514.4,1543.7 L1516.4,1543.8 L1518.4,1543.8 L1520.4,1543.8 L1522.4,1543.8 L1524.4,1543.8 L1526.4,1543.8 L1528.4,1543.8 L1530.4,1543.8 L1532.4,1543.8 L1534.3,1543.8 L1536.3,1543.8 L1538.3,1543.9 L1540.3,1543.9 L1542.3,1543.9 L1544.3,1543.9 L1546.3,1543.9 L1548.3,1543.9 L1550.3,1543.9 L1552.3,1543.9 L1554.3,1543.9 L1556.3,1543.9 L1558.3,1544.0 L1560.3,1544.0 L1562.3,1544.0 L1564.3,1544.0 L1566.3,1544.0 L1568.3,1544.0 L1570.3,1544.0 L1572.3,1544.0 L1574.3,1544.0 L1576.3,1544.1 L1578.3,1544.1 L1580.3,1544.1 L1582.3,1544.1 L1584.3,1544.1 L1586.3,1544.1 L1588.3,1544.1 L1590.3,1544.1 L1592.3,1544.1 L1594.3,1544.2 L1596.3,1544.2 L1598.3,1544.2 L1600.3,1544.2 L1602.3,1544.2 L1604.3,1544.2 L1606.3,1544.2 L1608.3,1544.2 L1610.3,1544.2 L1612.3,1544.3 L1614.3,1544.3 L1616.3,1544.3 L1618.3,1544.3 L1620.3,1544.3 L1622.3,1544.3 L1624.3,1544.3 L1626.3,1544.3 L1628.3,1544.4 L1630.3,1544.4 L1632.3,1544.4 L1634.3,1544.4 L1636.3,1544.4 L1638.3,1544.4 L1640.3,1544.4 L1642.3,1544.5 L1644.3,1544.5 L1646.3,1544.5 L1648.3,1544.5 L1650.3,1544.5 L1652.3,1544.5 L1654.3,1544.6 L1656.3,1544.6 L1658.3,1544.6 L1660.3,1544.6 L1662.3,1544.6 L1664.3,1544.7 L1666.3,1544.7 L1668.3,1544.7 L1670.3,1544.7 L1672.3,1544.7 L1674.2,1544.8 L1676.2,1544.8 L1678.2,1544.8 L1680.2,1544.8 L1682.2,1544.8 L1684.2,1544.9 L1686.2,1544.9 L1688.2,1544.9 L1690.2,1544.9 L1692.2,1545.0 L1694.2,1545.0 L1696.2,1545.0 L1698.2,1545.0 L1700.2,1545.1 L1702.2,1545.1 L1704.2,1545.1 L1706.2,1545.1 L1708.2,1545.2 L1710.2,1545.2 L1712.2,1545.2 L1714.2,1545.3 L1716.2,1545.3 L1718.2,1545.3 L1720.2,1545.4 L1722.2,1545.4 L1724.2,1545.4 L1726.2,1545.5 L1728.2,1545.5 L1730.2,1545.5 L1732.2,1545.6 L1734.2,1545.6 L1736.2,1545.6 L1738.2,1545.7 L1740.2,1545.7 L1742.2,1545.7 L1744.2,1545.8 L1746.2,1545.8 L1748.2,1545.9 L1750.2,1545.9 L1752.2,1545.9 L1754.2,1546.0 L1756.2,1546.0 L1758.2,1546.1 L1760.2,1546.1 L1762.2,1546.2 L1764.2,1546.2 L1766.2,1546.2 L1768.2,1546.3 L1770.2,1546.3 L1772.2,1546.4 L1774.2,1546.4 L1776.2,1546.5 L1778.2,1546.5 L1780.2,1546.5 L1782.2,1546.6 L1784.2,1546.6 L1786.2,1546.7 L1788.2,1546.7 L1790.2,1546.7 L1792.2,1546.8 L1794.2,1546.8 L1796.2,1546.8 L1798.2,1546.9 L1800.2,1546.9 L1802.2,1546.9 L1804.2,1546.9 L1806.2,1547.0 L1808.2,1547.0 L1810.2,1547.0 L1812.2,1547.0 L1814.2,1547.1 L1816.2,1547.1 L1818.2,1547.1 L1820.2,1547.1 L1822.2,1547.1 L1824.2,1547.1 L1826.2,1547.1 L1828.1,1547.2 L1830.1,1547.2 L1832.1,1547.2 L1834.1,1547.2 L1836.1,1547.1 L1838.1,1547.1 L1840.1,1547.1 L1842.1,1547.1 L1844.1,1547.1 L1846.1,1547.1 L1848.1,1547.1 L1850.1,1547.0 L1852.1,1547.0 L1854.1,1547.0 L1856.1,1546.9 L1858.1,1546.9 L1860.1,1546.9 L1862.1,1546.8 L1864.1,1546.8 L1866.1,1546.7 L1868.1,1546.7 L1870.1,1546.6 L1872.1,1546.6 L1874.1,1546.5 L1876.1,1546.4 L1878.1,1546.3 L1880.1,1546.3 L1882.1,1546.2 L1884.1,1546.1 L1886.1,1546.0 L1888.1,1545.9 L1890.1,1545.8 L1892.0,1545.7 L1894.0,1545.6 L1896.0,1545.5 L1898.0,1545.4 L1900.0,1545.2 L1902.0,1545.1 L1904.0,1545.0 L1906.0,1544.8 L1908.0,1544.7 L1910.0,1544.5 L1912.0,1544.4 L1914.0,1544.2"/>
</g>
<rect x="56.5" y="51.5" width="2068" height="466" fill="#fff" stroke="#000" stroke-width="3"/>
<g font-family="Liberation Sans, Arial, sans-serif" fill="#000">
<line x1="85.5" y1="102.3" x2="252.1" y2="102.3" stroke="#ff0000" stroke-width="7" stroke-linecap="round"/>
<text transform="translate(273,127.8) scale(1,1.033)" font-size="74.6">P(DMAM-co-[(PPy)<tspan font-size="46.0" dy="28.3">2</tspan><tspan dy="-28.3">Ir(VQPy)(PF<tspan font-size="46.0" dy="28.3">6</tspan><tspan dy="-28.3">)]) <tspan font-weight="bold">P1</tspan><tspan dx="-2.5"> in H</tspan><tspan font-size="46.0" dy="28.3">2</tspan><tspan dy="-28.3">O</tspan></tspan></tspan></text>
<line x1="85.5" y1="219.7" x2="252.1" y2="219.7" stroke="#000000" stroke-width="7" stroke-linecap="round"/>
<text transform="translate(273,244.7) scale(1,1.033)" font-size="74.6">P(DMAM-co-VQPy-co-[(PPy)<tspan font-size="46.0" dy="28.3">2</tspan><tspan dy="-28.3">Ir(VQPy)(PF<tspan font-size="46.0" dy="28.3">6</tspan><tspan dy="-28.3">)]) <tspan font-weight="bold">P2</tspan><tspan dx="-2.5"> in H</tspan><tspan font-size="46.0" dy="28.3">2</tspan><tspan dy="-28.3">O</tspan></tspan></tspan></text>
<line x1="85.5" y1="335.9" x2="252.1" y2="335.9" stroke="#0000ff" stroke-width="7" stroke-linecap="round"/>
<text transform="translate(273,362.0) scale(1,1.033)" font-size="74.6">[(PPy)<tspan font-size="46.0" dy="28.3">2</tspan><tspan dy="-28.3">Ir(VQPy)(PF<tspan font-size="46.0" dy="28.3">6</tspan><tspan dy="-28.3">)] in CHCl<tspan font-size="46.0" dy="28.3">3</tspan><tspan dy="-28.3"></tspan></tspan></tspan></text>
<line x1="85.5" y1="452.3" x2="252.1" y2="452.3" stroke="#008000" stroke-width="7" stroke-linecap="round"/>
<text transform="translate(273,478.1) scale(1,1.033)" font-size="74.6">[(PPy)<tspan font-size="46.0" dy="28.3">2</tspan><tspan dy="-28.3">Ir(VQPy)(PF<tspan font-size="46.0" dy="28.3">6</tspan><tspan dy="-28.3">)] in H<tspan font-size="46.0" dy="28.3">2</tspan><tspan dy="-28.3">O</tspan></tspan></tspan></text>
<text transform="translate(505.4,1685) scale(1,1.045)" font-size="91.5" text-anchor="middle">300</text>
<text transform="translate(972.8,1685) scale(1,1.045)" font-size="91.5" text-anchor="middle">400</text>
<text transform="translate(1440.3,1685) scale(1,1.045)" font-size="91.5" text-anchor="middle">500</text>
<text transform="translate(1907.7,1685) scale(1,1.045)" font-size="91.5" text-anchor="middle">600</text>
<text transform="translate(1089.9,1783) scale(1,1.035)" font-size="103.7" font-weight="bold" text-anchor="middle">Wavelength (nm)</text>
<text transform="translate(171,993.4) rotate(-90) scale(1,1.035)" font-size="103.7" font-weight="bold" text-anchor="middle">Absorption (a.u.)</text>
</g>
</svg>
</body></html>
